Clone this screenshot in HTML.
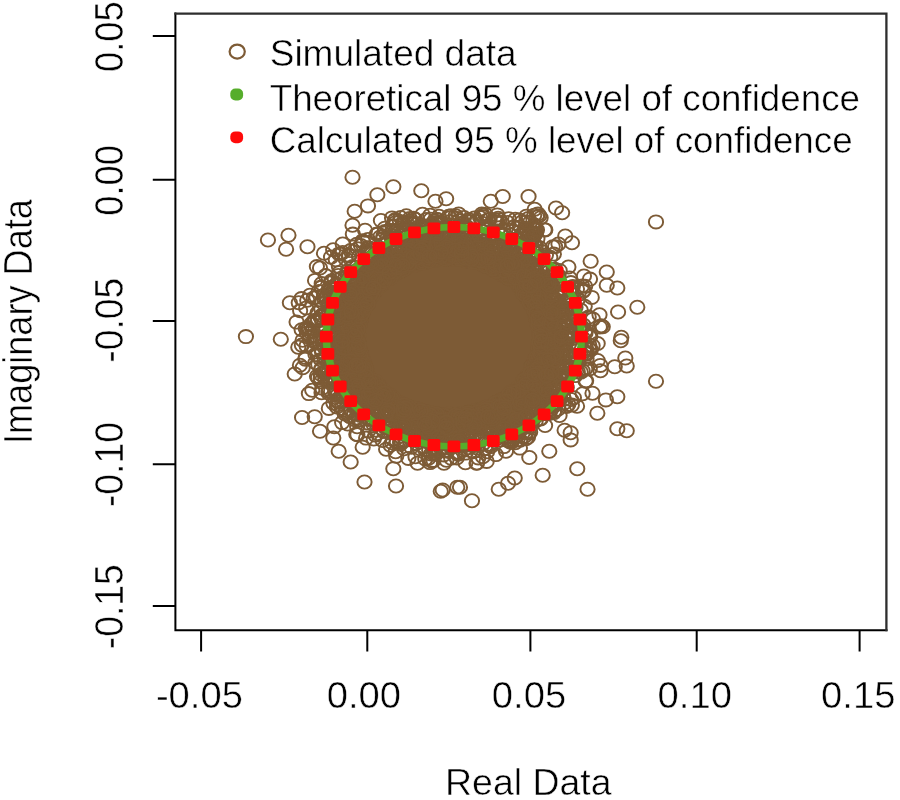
<!DOCTYPE html>
<html lang="en"><head><meta charset="utf-8"><title>Simulated data plot</title>
<style>
html,body{margin:0;padding:0;background:#fff;}
body{width:900px;height:800px;overflow:hidden;}
svg{display:block;}
text{font-family:"Liberation Sans",Arial,sans-serif;fill:#000;}
</style></head><body>
<svg width="900" height="800" viewBox="0 0 900 800">
<rect width="900" height="800" fill="#fff"/>
<ellipse cx="448.9" cy="336.7" rx="100.1" ry="86.0" fill="#7D5B36"/>
<g fill="none" stroke="#7D5B36" stroke-width="1.8" transform="scale(1.08 1)">
<circle cx="323.9" cy="278.9" r="6.6"/><circle cx="326.7" cy="326.2" r="6.6"/><circle cx="294.2" cy="312.6" r="6.6"/><circle cx="481.2" cy="267.4" r="6.6"/><circle cx="384.7" cy="426.4" r="6.6"/><circle cx="446.9" cy="247.4" r="6.6"/><circle cx="334.2" cy="245.5" r="6.6"/><circle cx="423.6" cy="437.3" r="6.6"/><circle cx="409.9" cy="247.2" r="6.6"/><circle cx="312.9" cy="374.6" r="6.6"/><circle cx="331.4" cy="370.6" r="6.6"/><circle cx="475.9" cy="401.3" r="6.6"/><circle cx="495.5" cy="306.6" r="6.6"/><circle cx="483.6" cy="271.5" r="6.6"/><circle cx="330.6" cy="369.6" r="6.6"/><circle cx="506.3" cy="403.2" r="6.6"/><circle cx="360.4" cy="261.0" r="6.6"/><circle cx="336.3" cy="242.1" r="6.6"/><circle cx="374.1" cy="268.9" r="6.6"/><circle cx="513.4" cy="274.3" r="6.6"/><circle cx="414.6" cy="238.1" r="6.6"/><circle cx="382.2" cy="248.5" r="6.6"/><circle cx="498.8" cy="402.2" r="6.6"/><circle cx="433.9" cy="219.6" r="6.6"/><circle cx="328.0" cy="407.0" r="6.6"/><circle cx="385.0" cy="408.5" r="6.6"/><circle cx="437.9" cy="427.0" r="6.6"/><circle cx="467.8" cy="405.0" r="6.6"/><circle cx="509.9" cy="327.9" r="6.6"/><circle cx="440.0" cy="420.5" r="6.6"/><circle cx="334.3" cy="354.1" r="6.6"/><circle cx="321.7" cy="273.6" r="6.6"/><circle cx="446.4" cy="437.9" r="6.6"/><circle cx="352.9" cy="272.0" r="6.6"/><circle cx="332.0" cy="301.6" r="6.6"/><circle cx="438.0" cy="251.6" r="6.6"/><circle cx="538.1" cy="328.8" r="6.6"/><circle cx="413.7" cy="259.5" r="6.6"/><circle cx="328.5" cy="334.0" r="6.6"/><circle cx="469.0" cy="268.4" r="6.6"/><circle cx="357.1" cy="254.4" r="6.6"/><circle cx="505.5" cy="322.3" r="6.6"/><circle cx="507.8" cy="290.1" r="6.6"/><circle cx="340.5" cy="291.3" r="6.6"/><circle cx="373.6" cy="251.8" r="6.6"/><circle cx="505.8" cy="330.6" r="6.6"/><circle cx="401.4" cy="243.7" r="6.6"/><circle cx="442.3" cy="262.1" r="6.6"/><circle cx="340.5" cy="378.9" r="6.6"/><circle cx="408.5" cy="223.2" r="6.6"/><circle cx="428.7" cy="415.0" r="6.6"/><circle cx="336.5" cy="362.7" r="6.6"/><circle cx="333.7" cy="320.3" r="6.6"/><circle cx="306.8" cy="321.7" r="6.6"/><circle cx="448.6" cy="412.9" r="6.6"/><circle cx="459.4" cy="424.4" r="6.6"/><circle cx="466.1" cy="269.1" r="6.6"/><circle cx="336.2" cy="272.3" r="6.6"/><circle cx="338.6" cy="290.2" r="6.6"/><circle cx="397.4" cy="450.2" r="6.6"/><circle cx="450.0" cy="428.9" r="6.6"/><circle cx="508.5" cy="413.3" r="6.6"/><circle cx="317.8" cy="365.3" r="6.6"/><circle cx="334.1" cy="353.2" r="6.6"/><circle cx="304.2" cy="391.2" r="6.6"/><circle cx="511.2" cy="337.7" r="6.6"/><circle cx="328.6" cy="296.6" r="6.6"/><circle cx="419.5" cy="247.0" r="6.6"/><circle cx="504.7" cy="425.5" r="6.6"/><circle cx="525.7" cy="333.6" r="6.6"/><circle cx="487.6" cy="249.2" r="6.6"/><circle cx="483.0" cy="266.2" r="6.6"/><circle cx="371.2" cy="243.6" r="6.6"/><circle cx="384.5" cy="248.1" r="6.6"/><circle cx="350.1" cy="409.9" r="6.6"/><circle cx="333.2" cy="324.1" r="6.6"/><circle cx="539.8" cy="291.5" r="6.6"/><circle cx="392.7" cy="242.6" r="6.6"/><circle cx="330.0" cy="315.9" r="6.6"/><circle cx="408.0" cy="448.1" r="6.6"/><circle cx="331.6" cy="324.2" r="6.6"/><circle cx="457.5" cy="430.6" r="6.6"/><circle cx="423.1" cy="416.8" r="6.6"/><circle cx="470.4" cy="440.4" r="6.6"/><circle cx="513.3" cy="326.9" r="6.6"/><circle cx="390.5" cy="241.1" r="6.6"/><circle cx="473.0" cy="274.5" r="6.6"/><circle cx="525.3" cy="299.7" r="6.6"/><circle cx="505.2" cy="412.9" r="6.6"/><circle cx="321.3" cy="293.3" r="6.6"/><circle cx="306.6" cy="365.1" r="6.6"/><circle cx="371.6" cy="266.5" r="6.6"/><circle cx="395.3" cy="427.3" r="6.6"/><circle cx="433.6" cy="416.3" r="6.6"/><circle cx="401.8" cy="255.6" r="6.6"/><circle cx="404.8" cy="237.3" r="6.6"/><circle cx="331.2" cy="288.9" r="6.6"/><circle cx="317.1" cy="293.4" r="6.6"/><circle cx="492.4" cy="289.3" r="6.6"/><circle cx="500.4" cy="345.4" r="6.6"/><circle cx="499.7" cy="247.8" r="6.6"/><circle cx="421.4" cy="446.1" r="6.6"/><circle cx="361.7" cy="267.2" r="6.6"/><circle cx="381.9" cy="236.7" r="6.6"/><circle cx="438.9" cy="420.4" r="6.6"/><circle cx="486.6" cy="228.9" r="6.6"/><circle cx="470.5" cy="240.8" r="6.6"/><circle cx="382.8" cy="428.1" r="6.6"/><circle cx="430.2" cy="449.1" r="6.6"/><circle cx="377.9" cy="234.9" r="6.6"/><circle cx="380.4" cy="246.7" r="6.6"/><circle cx="378.9" cy="416.4" r="6.6"/><circle cx="466.6" cy="446.6" r="6.6"/><circle cx="528.6" cy="298.6" r="6.6"/><circle cx="336.5" cy="295.2" r="6.6"/><circle cx="327.9" cy="285.1" r="6.6"/><circle cx="493.7" cy="238.6" r="6.6"/><circle cx="411.7" cy="252.5" r="6.6"/><circle cx="331.6" cy="296.8" r="6.6"/><circle cx="444.9" cy="415.2" r="6.6"/><circle cx="357.9" cy="395.2" r="6.6"/><circle cx="432.1" cy="226.6" r="6.6"/><circle cx="360.9" cy="427.6" r="6.6"/><circle cx="411.1" cy="463.3" r="6.6"/><circle cx="466.8" cy="404.7" r="6.6"/><circle cx="358.7" cy="272.3" r="6.6"/><circle cx="492.5" cy="298.7" r="6.6"/><circle cx="498.4" cy="381.7" r="6.6"/><circle cx="493.3" cy="260.4" r="6.6"/><circle cx="338.9" cy="386.3" r="6.6"/><circle cx="424.5" cy="220.8" r="6.6"/><circle cx="484.7" cy="417.7" r="6.6"/><circle cx="337.5" cy="376.3" r="6.6"/><circle cx="546.1" cy="368.8" r="6.6"/><circle cx="352.5" cy="280.0" r="6.6"/><circle cx="392.0" cy="253.7" r="6.6"/><circle cx="350.6" cy="263.4" r="6.6"/><circle cx="512.5" cy="269.6" r="6.6"/><circle cx="498.1" cy="321.5" r="6.6"/><circle cx="359.8" cy="277.7" r="6.6"/><circle cx="443.3" cy="256.8" r="6.6"/><circle cx="388.0" cy="240.8" r="6.6"/><circle cx="491.9" cy="238.5" r="6.6"/><circle cx="541.8" cy="286.2" r="6.6"/><circle cx="381.1" cy="223.6" r="6.6"/><circle cx="503.4" cy="295.8" r="6.6"/><circle cx="486.5" cy="408.0" r="6.6"/><circle cx="508.8" cy="394.9" r="6.6"/><circle cx="356.0" cy="401.9" r="6.6"/><circle cx="529.7" cy="358.3" r="6.6"/><circle cx="396.1" cy="259.6" r="6.6"/><circle cx="498.0" cy="374.9" r="6.6"/><circle cx="342.6" cy="403.9" r="6.6"/><circle cx="529.0" cy="304.6" r="6.6"/><circle cx="428.2" cy="250.8" r="6.6"/><circle cx="355.2" cy="396.2" r="6.6"/><circle cx="356.8" cy="410.4" r="6.6"/><circle cx="440.1" cy="416.9" r="6.6"/><circle cx="472.4" cy="412.8" r="6.6"/><circle cx="513.5" cy="389.7" r="6.6"/><circle cx="436.0" cy="259.6" r="6.6"/><circle cx="324.3" cy="382.4" r="6.6"/><circle cx="483.6" cy="282.3" r="6.6"/><circle cx="492.4" cy="294.9" r="6.6"/><circle cx="287.5" cy="336.4" r="6.6"/><circle cx="492.0" cy="285.2" r="6.6"/><circle cx="363.0" cy="403.1" r="6.6"/><circle cx="386.9" cy="425.7" r="6.6"/><circle cx="332.6" cy="276.7" r="6.6"/><circle cx="521.3" cy="367.5" r="6.6"/><circle cx="318.1" cy="328.8" r="6.6"/><circle cx="334.0" cy="320.4" r="6.6"/><circle cx="306.3" cy="298.6" r="6.6"/><circle cx="390.4" cy="434.2" r="6.6"/><circle cx="515.0" cy="346.3" r="6.6"/><circle cx="403.9" cy="240.2" r="6.6"/><circle cx="489.2" cy="374.5" r="6.6"/><circle cx="344.9" cy="259.1" r="6.6"/><circle cx="420.4" cy="241.0" r="6.6"/><circle cx="359.8" cy="275.3" r="6.6"/><circle cx="317.3" cy="392.2" r="6.6"/><circle cx="309.1" cy="332.1" r="6.6"/><circle cx="420.0" cy="230.1" r="6.6"/><circle cx="457.7" cy="254.1" r="6.6"/><circle cx="385.8" cy="437.2" r="6.6"/><circle cx="473.1" cy="414.0" r="6.6"/><circle cx="381.7" cy="259.3" r="6.6"/><circle cx="348.8" cy="273.1" r="6.6"/><circle cx="525.7" cy="340.0" r="6.6"/><circle cx="502.6" cy="358.5" r="6.6"/><circle cx="364.2" cy="239.9" r="6.6"/><circle cx="351.7" cy="284.9" r="6.6"/><circle cx="304.7" cy="370.4" r="6.6"/><circle cx="341.5" cy="419.4" r="6.6"/><circle cx="507.2" cy="350.9" r="6.6"/><circle cx="420.9" cy="437.2" r="6.6"/><circle cx="317.1" cy="317.3" r="6.6"/><circle cx="499.4" cy="331.9" r="6.6"/><circle cx="403.7" cy="427.8" r="6.6"/><circle cx="519.7" cy="346.0" r="6.6"/><circle cx="502.6" cy="305.5" r="6.6"/><circle cx="402.9" cy="232.5" r="6.6"/><circle cx="464.7" cy="399.9" r="6.6"/><circle cx="386.2" cy="426.5" r="6.6"/><circle cx="413.1" cy="434.9" r="6.6"/><circle cx="517.0" cy="297.2" r="6.6"/><circle cx="503.4" cy="321.9" r="6.6"/><circle cx="322.5" cy="331.5" r="6.6"/><circle cx="490.3" cy="400.3" r="6.6"/><circle cx="353.9" cy="282.5" r="6.6"/><circle cx="500.0" cy="365.8" r="6.6"/><circle cx="503.9" cy="398.2" r="6.6"/><circle cx="422.9" cy="457.9" r="6.6"/><circle cx="420.4" cy="242.9" r="6.6"/><circle cx="427.0" cy="258.0" r="6.6"/><circle cx="498.3" cy="350.0" r="6.6"/><circle cx="360.2" cy="276.0" r="6.6"/><circle cx="301.2" cy="372.9" r="6.6"/><circle cx="517.7" cy="342.9" r="6.6"/><circle cx="393.9" cy="411.5" r="6.6"/><circle cx="505.2" cy="294.1" r="6.6"/><circle cx="418.6" cy="259.1" r="6.6"/><circle cx="348.8" cy="420.6" r="6.6"/><circle cx="350.9" cy="406.5" r="6.6"/><circle cx="499.1" cy="294.8" r="6.6"/><circle cx="431.9" cy="426.3" r="6.6"/><circle cx="355.3" cy="430.6" r="6.6"/><circle cx="380.4" cy="237.7" r="6.6"/><circle cx="508.1" cy="321.5" r="6.6"/><circle cx="474.2" cy="274.6" r="6.6"/><circle cx="368.0" cy="407.1" r="6.6"/><circle cx="471.0" cy="278.8" r="6.6"/><circle cx="502.2" cy="251.6" r="6.6"/><circle cx="325.4" cy="319.6" r="6.6"/><circle cx="344.6" cy="400.9" r="6.6"/><circle cx="505.7" cy="364.7" r="6.6"/><circle cx="347.4" cy="261.1" r="6.6"/><circle cx="348.7" cy="273.6" r="6.6"/><circle cx="438.4" cy="451.8" r="6.6"/><circle cx="382.3" cy="423.2" r="6.6"/><circle cx="323.6" cy="353.8" r="6.6"/><circle cx="449.1" cy="245.6" r="6.6"/><circle cx="487.0" cy="438.8" r="6.6"/><circle cx="409.4" cy="251.2" r="6.6"/><circle cx="506.7" cy="282.5" r="6.6"/><circle cx="473.5" cy="430.9" r="6.6"/><circle cx="490.7" cy="289.6" r="6.6"/><circle cx="338.5" cy="294.5" r="6.6"/><circle cx="485.8" cy="424.7" r="6.6"/><circle cx="333.9" cy="319.1" r="6.6"/><circle cx="359.3" cy="396.5" r="6.6"/><circle cx="420.1" cy="251.7" r="6.6"/><circle cx="396.4" cy="442.2" r="6.6"/><circle cx="359.1" cy="272.1" r="6.6"/><circle cx="485.5" cy="289.0" r="6.6"/><circle cx="493.8" cy="394.8" r="6.6"/><circle cx="335.7" cy="294.4" r="6.6"/><circle cx="441.8" cy="447.9" r="6.6"/><circle cx="433.9" cy="221.7" r="6.6"/><circle cx="510.7" cy="368.4" r="6.6"/><circle cx="464.8" cy="411.3" r="6.6"/><circle cx="377.9" cy="242.4" r="6.6"/><circle cx="383.2" cy="245.9" r="6.6"/><circle cx="334.8" cy="367.5" r="6.6"/><circle cx="496.1" cy="420.6" r="6.6"/><circle cx="345.6" cy="289.8" r="6.6"/><circle cx="434.1" cy="252.0" r="6.6"/><circle cx="315.5" cy="396.7" r="6.6"/><circle cx="517.0" cy="359.0" r="6.6"/><circle cx="396.4" cy="422.6" r="6.6"/><circle cx="364.8" cy="236.0" r="6.6"/><circle cx="395.5" cy="240.7" r="6.6"/><circle cx="436.2" cy="411.7" r="6.6"/><circle cx="323.5" cy="389.2" r="6.6"/><circle cx="388.2" cy="442.0" r="6.6"/><circle cx="391.0" cy="256.5" r="6.6"/><circle cx="513.7" cy="321.0" r="6.6"/><circle cx="340.4" cy="276.0" r="6.6"/><circle cx="429.7" cy="444.9" r="6.6"/><circle cx="362.0" cy="416.0" r="6.6"/><circle cx="357.7" cy="269.1" r="6.6"/><circle cx="518.0" cy="364.3" r="6.6"/><circle cx="541.6" cy="351.3" r="6.6"/><circle cx="503.1" cy="349.4" r="6.6"/><circle cx="348.4" cy="400.6" r="6.6"/><circle cx="521.2" cy="313.5" r="6.6"/><circle cx="347.1" cy="275.7" r="6.6"/><circle cx="346.1" cy="439.0" r="6.6"/><circle cx="325.4" cy="301.8" r="6.6"/><circle cx="507.5" cy="310.5" r="6.6"/><circle cx="511.7" cy="287.7" r="6.6"/><circle cx="444.4" cy="256.1" r="6.6"/><circle cx="333.9" cy="275.7" r="6.6"/><circle cx="311.6" cy="313.4" r="6.6"/><circle cx="506.5" cy="306.5" r="6.6"/><circle cx="471.9" cy="398.4" r="6.6"/><circle cx="512.9" cy="341.9" r="6.6"/><circle cx="500.7" cy="280.8" r="6.6"/><circle cx="338.9" cy="304.7" r="6.6"/><circle cx="491.1" cy="285.1" r="6.6"/><circle cx="384.7" cy="456.8" r="6.6"/><circle cx="336.3" cy="304.0" r="6.6"/><circle cx="350.9" cy="284.0" r="6.6"/><circle cx="415.4" cy="246.7" r="6.6"/><circle cx="375.5" cy="413.6" r="6.6"/><circle cx="487.0" cy="382.6" r="6.6"/><circle cx="306.5" cy="391.4" r="6.6"/><circle cx="324.0" cy="367.2" r="6.6"/><circle cx="445.2" cy="416.1" r="6.6"/><circle cx="451.7" cy="260.7" r="6.6"/><circle cx="448.8" cy="262.7" r="6.6"/><circle cx="485.0" cy="406.5" r="6.6"/><circle cx="517.9" cy="394.5" r="6.6"/><circle cx="486.3" cy="379.0" r="6.6"/><circle cx="393.4" cy="248.8" r="6.6"/><circle cx="414.8" cy="428.3" r="6.6"/><circle cx="359.0" cy="418.5" r="6.6"/><circle cx="326.7" cy="234.1" r="6.6"/><circle cx="314.2" cy="323.2" r="6.6"/><circle cx="392.3" cy="427.0" r="6.6"/><circle cx="364.7" cy="261.1" r="6.6"/><circle cx="339.7" cy="371.5" r="6.6"/><circle cx="293.5" cy="376.3" r="6.6"/><circle cx="526.4" cy="337.8" r="6.6"/><circle cx="503.9" cy="283.5" r="6.6"/><circle cx="348.9" cy="386.1" r="6.6"/><circle cx="417.6" cy="427.8" r="6.6"/><circle cx="307.6" cy="339.7" r="6.6"/><circle cx="349.5" cy="433.5" r="6.6"/><circle cx="397.7" cy="429.9" r="6.6"/><circle cx="515.8" cy="333.3" r="6.6"/><circle cx="279.3" cy="329.7" r="6.6"/><circle cx="424.3" cy="422.9" r="6.6"/><circle cx="349.0" cy="422.1" r="6.6"/><circle cx="293.1" cy="342.9" r="6.6"/><circle cx="350.1" cy="274.6" r="6.6"/><circle cx="520.1" cy="346.9" r="6.6"/><circle cx="433.6" cy="447.7" r="6.6"/><circle cx="392.4" cy="425.1" r="6.6"/><circle cx="495.8" cy="363.9" r="6.6"/><circle cx="542.2" cy="332.7" r="6.6"/><circle cx="345.7" cy="390.0" r="6.6"/><circle cx="431.6" cy="415.5" r="6.6"/><circle cx="428.2" cy="244.9" r="6.6"/><circle cx="330.1" cy="341.8" r="6.6"/><circle cx="370.5" cy="271.7" r="6.6"/><circle cx="331.7" cy="309.8" r="6.6"/><circle cx="490.7" cy="275.4" r="6.6"/><circle cx="347.6" cy="286.9" r="6.6"/><circle cx="473.6" cy="396.7" r="6.6"/><circle cx="318.6" cy="302.1" r="6.6"/><circle cx="499.3" cy="256.9" r="6.6"/><circle cx="441.0" cy="257.8" r="6.6"/><circle cx="521.6" cy="288.5" r="6.6"/><circle cx="434.3" cy="444.3" r="6.6"/><circle cx="489.7" cy="433.2" r="6.6"/><circle cx="318.2" cy="351.2" r="6.6"/><circle cx="343.5" cy="390.8" r="6.6"/><circle cx="320.4" cy="291.7" r="6.6"/><circle cx="334.9" cy="410.2" r="6.6"/><circle cx="389.8" cy="256.0" r="6.6"/><circle cx="507.3" cy="352.9" r="6.6"/><circle cx="371.2" cy="265.9" r="6.6"/><circle cx="462.6" cy="405.0" r="6.6"/><circle cx="399.5" cy="237.5" r="6.6"/><circle cx="486.8" cy="401.0" r="6.6"/><circle cx="312.5" cy="294.7" r="6.6"/><circle cx="501.4" cy="320.2" r="6.6"/><circle cx="502.2" cy="397.0" r="6.6"/><circle cx="327.2" cy="352.3" r="6.6"/><circle cx="387.1" cy="243.8" r="6.6"/><circle cx="371.4" cy="255.9" r="6.6"/><circle cx="498.3" cy="320.2" r="6.6"/><circle cx="398.7" cy="235.9" r="6.6"/><circle cx="311.3" cy="349.6" r="6.6"/><circle cx="400.5" cy="424.1" r="6.6"/><circle cx="339.3" cy="293.0" r="6.6"/><circle cx="337.8" cy="384.7" r="6.6"/><circle cx="365.5" cy="242.0" r="6.6"/><circle cx="314.2" cy="326.9" r="6.6"/><circle cx="530.9" cy="321.4" r="6.6"/><circle cx="293.6" cy="321.3" r="6.6"/><circle cx="509.3" cy="377.6" r="6.6"/><circle cx="470.1" cy="277.2" r="6.6"/><circle cx="515.7" cy="339.0" r="6.6"/><circle cx="497.4" cy="272.4" r="6.6"/><circle cx="460.4" cy="430.6" r="6.6"/><circle cx="498.8" cy="367.9" r="6.6"/><circle cx="402.4" cy="222.7" r="6.6"/><circle cx="539.5" cy="370.7" r="6.6"/><circle cx="325.5" cy="401.1" r="6.6"/><circle cx="458.2" cy="414.9" r="6.6"/><circle cx="456.4" cy="265.5" r="6.6"/><circle cx="392.6" cy="233.2" r="6.6"/><circle cx="526.3" cy="267.0" r="6.6"/><circle cx="320.1" cy="259.1" r="6.6"/><circle cx="283.9" cy="345.9" r="6.6"/><circle cx="498.9" cy="385.2" r="6.6"/><circle cx="283.5" cy="308.0" r="6.6"/><circle cx="389.9" cy="261.6" r="6.6"/><circle cx="353.4" cy="411.9" r="6.6"/><circle cx="400.3" cy="244.9" r="6.6"/><circle cx="338.9" cy="385.4" r="6.6"/><circle cx="499.0" cy="378.0" r="6.6"/><circle cx="399.3" cy="253.5" r="6.6"/><circle cx="518.2" cy="345.9" r="6.6"/><circle cx="517.0" cy="390.3" r="6.6"/><circle cx="329.8" cy="291.3" r="6.6"/><circle cx="335.3" cy="275.2" r="6.6"/><circle cx="391.2" cy="410.7" r="6.6"/><circle cx="439.2" cy="419.0" r="6.6"/><circle cx="504.3" cy="284.9" r="6.6"/><circle cx="494.7" cy="291.5" r="6.6"/><circle cx="366.3" cy="451.8" r="6.6"/><circle cx="328.7" cy="354.9" r="6.6"/><circle cx="487.6" cy="396.1" r="6.6"/><circle cx="471.1" cy="271.9" r="6.6"/><circle cx="374.2" cy="256.6" r="6.6"/><circle cx="517.3" cy="339.3" r="6.6"/><circle cx="467.1" cy="242.4" r="6.6"/><circle cx="416.9" cy="435.6" r="6.6"/><circle cx="297.5" cy="368.8" r="6.6"/><circle cx="319.2" cy="285.5" r="6.6"/><circle cx="494.4" cy="384.5" r="6.6"/><circle cx="528.6" cy="282.6" r="6.6"/><circle cx="464.9" cy="399.4" r="6.6"/><circle cx="336.2" cy="266.6" r="6.6"/><circle cx="525.6" cy="302.7" r="6.6"/><circle cx="502.4" cy="378.6" r="6.6"/><circle cx="317.9" cy="390.2" r="6.6"/><circle cx="317.6" cy="349.8" r="6.6"/><circle cx="465.5" cy="268.5" r="6.6"/><circle cx="466.4" cy="427.1" r="6.6"/><circle cx="451.0" cy="451.8" r="6.6"/><circle cx="491.0" cy="276.4" r="6.6"/><circle cx="400.3" cy="414.7" r="6.6"/><circle cx="345.4" cy="415.8" r="6.6"/><circle cx="504.0" cy="351.9" r="6.6"/><circle cx="483.2" cy="270.2" r="6.6"/><circle cx="326.2" cy="338.7" r="6.6"/><circle cx="315.6" cy="253.7" r="6.6"/><circle cx="355.6" cy="431.4" r="6.6"/><circle cx="302.1" cy="328.8" r="6.6"/><circle cx="501.4" cy="367.4" r="6.6"/><circle cx="426.8" cy="444.3" r="6.6"/><circle cx="463.1" cy="246.5" r="6.6"/><circle cx="335.8" cy="240.7" r="6.6"/><circle cx="422.4" cy="238.7" r="6.6"/><circle cx="388.0" cy="248.6" r="6.6"/><circle cx="327.6" cy="372.3" r="6.6"/><circle cx="449.9" cy="250.8" r="6.6"/><circle cx="337.1" cy="282.7" r="6.6"/><circle cx="346.2" cy="286.9" r="6.6"/><circle cx="428.9" cy="417.9" r="6.6"/><circle cx="392.3" cy="255.9" r="6.6"/><circle cx="332.4" cy="313.6" r="6.6"/><circle cx="430.8" cy="260.4" r="6.6"/><circle cx="366.6" cy="263.7" r="6.6"/><circle cx="344.9" cy="271.7" r="6.6"/><circle cx="348.7" cy="390.1" r="6.6"/><circle cx="371.6" cy="430.6" r="6.6"/><circle cx="426.6" cy="247.7" r="6.6"/><circle cx="375.0" cy="266.2" r="6.6"/><circle cx="425.7" cy="247.8" r="6.6"/><circle cx="356.5" cy="271.0" r="6.6"/><circle cx="334.8" cy="296.0" r="6.6"/><circle cx="326.7" cy="329.7" r="6.6"/><circle cx="497.7" cy="400.2" r="6.6"/><circle cx="511.9" cy="309.3" r="6.6"/><circle cx="470.6" cy="419.6" r="6.6"/><circle cx="428.3" cy="421.3" r="6.6"/><circle cx="395.2" cy="434.4" r="6.6"/><circle cx="311.0" cy="381.4" r="6.6"/><circle cx="528.5" cy="367.1" r="6.6"/><circle cx="454.2" cy="251.3" r="6.6"/><circle cx="465.9" cy="229.8" r="6.6"/><circle cx="409.3" cy="421.8" r="6.6"/><circle cx="328.3" cy="318.4" r="6.6"/><circle cx="490.9" cy="432.0" r="6.6"/><circle cx="407.6" cy="416.1" r="6.6"/><circle cx="304.8" cy="377.0" r="6.6"/><circle cx="394.8" cy="438.9" r="6.6"/><circle cx="325.6" cy="401.3" r="6.6"/><circle cx="306.3" cy="375.6" r="6.6"/><circle cx="290.4" cy="298.0" r="6.6"/><circle cx="315.5" cy="321.5" r="6.6"/><circle cx="503.3" cy="315.1" r="6.6"/><circle cx="448.8" cy="264.5" r="6.6"/><circle cx="318.3" cy="361.7" r="6.6"/><circle cx="452.2" cy="411.4" r="6.6"/><circle cx="402.7" cy="260.4" r="6.6"/><circle cx="525.3" cy="337.8" r="6.6"/><circle cx="438.0" cy="251.3" r="6.6"/><circle cx="377.0" cy="412.0" r="6.6"/><circle cx="399.1" cy="420.0" r="6.6"/><circle cx="366.8" cy="259.3" r="6.6"/><circle cx="297.9" cy="283.6" r="6.6"/><circle cx="325.0" cy="394.6" r="6.6"/><circle cx="314.9" cy="387.0" r="6.6"/><circle cx="413.5" cy="418.8" r="6.6"/><circle cx="496.0" cy="315.6" r="6.6"/><circle cx="335.9" cy="397.2" r="6.6"/><circle cx="348.9" cy="275.3" r="6.6"/><circle cx="333.2" cy="298.5" r="6.6"/><circle cx="488.0" cy="383.7" r="6.6"/><circle cx="349.6" cy="271.7" r="6.6"/><circle cx="484.8" cy="394.1" r="6.6"/><circle cx="480.2" cy="415.0" r="6.6"/><circle cx="398.9" cy="441.5" r="6.6"/><circle cx="405.3" cy="238.2" r="6.6"/><circle cx="336.6" cy="379.5" r="6.6"/><circle cx="504.8" cy="377.3" r="6.6"/><circle cx="424.0" cy="438.0" r="6.6"/><circle cx="325.3" cy="381.1" r="6.6"/><circle cx="340.2" cy="394.0" r="6.6"/><circle cx="516.5" cy="398.8" r="6.6"/><circle cx="503.6" cy="320.3" r="6.6"/><circle cx="298.1" cy="320.3" r="6.6"/><circle cx="356.4" cy="398.9" r="6.6"/><circle cx="293.0" cy="297.3" r="6.6"/><circle cx="392.5" cy="432.5" r="6.6"/><circle cx="447.8" cy="259.4" r="6.6"/><circle cx="501.8" cy="369.2" r="6.6"/><circle cx="473.6" cy="442.3" r="6.6"/><circle cx="499.9" cy="357.3" r="6.6"/><circle cx="368.0" cy="402.3" r="6.6"/><circle cx="556.6" cy="325.8" r="6.6"/><circle cx="416.8" cy="415.5" r="6.6"/><circle cx="317.0" cy="353.5" r="6.6"/><circle cx="354.9" cy="395.0" r="6.6"/><circle cx="323.0" cy="289.1" r="6.6"/><circle cx="308.7" cy="316.4" r="6.6"/><circle cx="362.9" cy="397.3" r="6.6"/><circle cx="411.6" cy="416.9" r="6.6"/><circle cx="406.0" cy="231.4" r="6.6"/><circle cx="337.7" cy="302.8" r="6.6"/><circle cx="498.5" cy="317.0" r="6.6"/><circle cx="369.4" cy="413.2" r="6.6"/><circle cx="526.7" cy="362.9" r="6.6"/><circle cx="487.5" cy="282.2" r="6.6"/><circle cx="431.3" cy="256.0" r="6.6"/><circle cx="422.8" cy="417.9" r="6.6"/><circle cx="385.1" cy="414.5" r="6.6"/><circle cx="488.3" cy="232.6" r="6.6"/><circle cx="346.8" cy="397.3" r="6.6"/><circle cx="420.5" cy="242.6" r="6.6"/><circle cx="482.3" cy="287.6" r="6.6"/><circle cx="311.2" cy="294.5" r="6.6"/><circle cx="370.2" cy="436.4" r="6.6"/><circle cx="442.9" cy="425.2" r="6.6"/><circle cx="449.2" cy="266.0" r="6.6"/><circle cx="406.2" cy="426.3" r="6.6"/><circle cx="500.2" cy="319.2" r="6.6"/><circle cx="389.9" cy="247.7" r="6.6"/><circle cx="526.2" cy="404.6" r="6.6"/><circle cx="466.8" cy="275.6" r="6.6"/><circle cx="500.2" cy="402.8" r="6.6"/><circle cx="432.4" cy="244.3" r="6.6"/><circle cx="476.4" cy="409.6" r="6.6"/><circle cx="497.1" cy="392.4" r="6.6"/><circle cx="328.7" cy="344.2" r="6.6"/><circle cx="481.6" cy="260.2" r="6.6"/><circle cx="324.3" cy="365.7" r="6.6"/><circle cx="396.6" cy="256.0" r="6.6"/><circle cx="426.0" cy="428.1" r="6.6"/><circle cx="529.1" cy="287.2" r="6.6"/><circle cx="497.8" cy="413.1" r="6.6"/><circle cx="413.1" cy="419.4" r="6.6"/><circle cx="474.7" cy="274.9" r="6.6"/><circle cx="335.9" cy="312.6" r="6.6"/><circle cx="371.1" cy="407.9" r="6.6"/><circle cx="479.2" cy="264.0" r="6.6"/><circle cx="457.6" cy="266.1" r="6.6"/><circle cx="495.8" cy="271.2" r="6.6"/><circle cx="327.3" cy="325.2" r="6.6"/><circle cx="452.0" cy="429.6" r="6.6"/><circle cx="330.7" cy="347.6" r="6.6"/><circle cx="341.6" cy="258.8" r="6.6"/><circle cx="510.0" cy="334.2" r="6.6"/><circle cx="442.7" cy="252.9" r="6.6"/><circle cx="500.0" cy="405.5" r="6.6"/><circle cx="503.8" cy="285.2" r="6.6"/><circle cx="328.6" cy="419.8" r="6.6"/><circle cx="307.0" cy="361.2" r="6.6"/><circle cx="350.6" cy="385.2" r="6.6"/><circle cx="340.8" cy="253.1" r="6.6"/><circle cx="449.2" cy="260.0" r="6.6"/><circle cx="322.4" cy="369.0" r="6.6"/><circle cx="304.4" cy="291.2" r="6.6"/><circle cx="519.6" cy="337.1" r="6.6"/><circle cx="501.9" cy="294.6" r="6.6"/><circle cx="502.0" cy="256.6" r="6.6"/><circle cx="443.4" cy="409.8" r="6.6"/><circle cx="330.6" cy="338.6" r="6.6"/><circle cx="413.7" cy="421.2" r="6.6"/><circle cx="289.5" cy="330.9" r="6.6"/><circle cx="511.4" cy="406.6" r="6.6"/><circle cx="330.2" cy="301.5" r="6.6"/><circle cx="485.4" cy="415.7" r="6.6"/><circle cx="359.5" cy="397.0" r="6.6"/><circle cx="522.0" cy="291.7" r="6.6"/><circle cx="306.0" cy="381.6" r="6.6"/><circle cx="491.6" cy="277.2" r="6.6"/><circle cx="390.7" cy="244.4" r="6.6"/><circle cx="519.1" cy="379.3" r="6.6"/><circle cx="315.7" cy="327.4" r="6.6"/><circle cx="332.2" cy="355.2" r="6.6"/><circle cx="422.5" cy="444.5" r="6.6"/><circle cx="320.0" cy="349.9" r="6.6"/><circle cx="315.8" cy="340.1" r="6.6"/><circle cx="330.1" cy="342.2" r="6.6"/><circle cx="308.9" cy="289.8" r="6.6"/><circle cx="391.2" cy="235.7" r="6.6"/><circle cx="326.0" cy="343.6" r="6.6"/><circle cx="376.9" cy="433.3" r="6.6"/><circle cx="496.7" cy="364.2" r="6.6"/><circle cx="457.5" cy="409.2" r="6.6"/><circle cx="499.5" cy="414.4" r="6.6"/><circle cx="453.4" cy="419.2" r="6.6"/><circle cx="464.8" cy="421.5" r="6.6"/><circle cx="470.8" cy="396.5" r="6.6"/><circle cx="308.5" cy="249.7" r="6.6"/><circle cx="489.8" cy="254.8" r="6.6"/><circle cx="504.8" cy="379.1" r="6.6"/><circle cx="530.2" cy="364.6" r="6.6"/><circle cx="354.2" cy="440.5" r="6.6"/><circle cx="357.6" cy="273.8" r="6.6"/><circle cx="516.5" cy="384.5" r="6.6"/><circle cx="504.3" cy="359.1" r="6.6"/><circle cx="416.5" cy="241.3" r="6.6"/><circle cx="474.8" cy="426.2" r="6.6"/><circle cx="332.9" cy="378.8" r="6.6"/><circle cx="365.9" cy="258.7" r="6.6"/><circle cx="500.7" cy="349.4" r="6.6"/><circle cx="429.9" cy="432.1" r="6.6"/><circle cx="473.3" cy="245.0" r="6.6"/><circle cx="402.7" cy="249.6" r="6.6"/><circle cx="328.3" cy="295.9" r="6.6"/><circle cx="520.4" cy="357.7" r="6.6"/><circle cx="468.4" cy="426.7" r="6.6"/><circle cx="330.8" cy="310.5" r="6.6"/><circle cx="538.9" cy="285.9" r="6.6"/><circle cx="326.4" cy="383.0" r="6.6"/><circle cx="334.5" cy="394.9" r="6.6"/><circle cx="504.8" cy="356.3" r="6.6"/><circle cx="311.1" cy="319.3" r="6.6"/><circle cx="503.4" cy="379.5" r="6.6"/><circle cx="514.8" cy="272.8" r="6.6"/><circle cx="494.1" cy="281.6" r="6.6"/><circle cx="522.8" cy="308.7" r="6.6"/><circle cx="344.1" cy="404.4" r="6.6"/><circle cx="474.0" cy="397.2" r="6.6"/><circle cx="338.2" cy="368.9" r="6.6"/><circle cx="494.0" cy="228.7" r="6.6"/><circle cx="397.9" cy="254.6" r="6.6"/><circle cx="505.3" cy="346.5" r="6.6"/><circle cx="434.2" cy="443.4" r="6.6"/><circle cx="351.5" cy="395.4" r="6.6"/><circle cx="476.0" cy="255.9" r="6.6"/><circle cx="381.8" cy="415.2" r="6.6"/><circle cx="323.7" cy="350.0" r="6.6"/><circle cx="512.5" cy="335.7" r="6.6"/><circle cx="333.5" cy="303.4" r="6.6"/><circle cx="432.4" cy="228.1" r="6.6"/><circle cx="503.3" cy="401.5" r="6.6"/><circle cx="481.3" cy="288.8" r="6.6"/><circle cx="547.9" cy="297.4" r="6.6"/><circle cx="492.9" cy="299.0" r="6.6"/><circle cx="357.6" cy="267.6" r="6.6"/><circle cx="454.4" cy="420.0" r="6.6"/><circle cx="512.8" cy="254.1" r="6.6"/><circle cx="308.5" cy="297.7" r="6.6"/><circle cx="329.6" cy="360.2" r="6.6"/><circle cx="376.5" cy="261.0" r="6.6"/><circle cx="526.9" cy="343.8" r="6.6"/><circle cx="378.3" cy="406.9" r="6.6"/><circle cx="340.7" cy="277.5" r="6.6"/><circle cx="482.5" cy="264.1" r="6.6"/><circle cx="430.9" cy="433.9" r="6.6"/><circle cx="513.1" cy="410.9" r="6.6"/><circle cx="330.2" cy="305.4" r="6.6"/><circle cx="297.1" cy="359.8" r="6.6"/><circle cx="428.7" cy="236.4" r="6.6"/><circle cx="329.3" cy="418.0" r="6.6"/><circle cx="472.5" cy="264.9" r="6.6"/><circle cx="328.6" cy="339.8" r="6.6"/><circle cx="522.1" cy="325.8" r="6.6"/><circle cx="524.4" cy="351.0" r="6.6"/><circle cx="305.0" cy="303.2" r="6.6"/><circle cx="346.6" cy="260.0" r="6.6"/><circle cx="385.4" cy="248.5" r="6.6"/><circle cx="364.8" cy="274.7" r="6.6"/><circle cx="381.5" cy="246.4" r="6.6"/><circle cx="447.4" cy="411.6" r="6.6"/><circle cx="391.4" cy="261.1" r="6.6"/><circle cx="499.5" cy="288.2" r="6.6"/><circle cx="430.1" cy="415.5" r="6.6"/><circle cx="497.3" cy="313.0" r="6.6"/><circle cx="448.9" cy="241.1" r="6.6"/><circle cx="405.5" cy="429.4" r="6.6"/><circle cx="329.3" cy="312.8" r="6.6"/><circle cx="325.4" cy="354.5" r="6.6"/><circle cx="404.8" cy="231.2" r="6.6"/><circle cx="340.7" cy="303.3" r="6.6"/><circle cx="413.6" cy="242.9" r="6.6"/><circle cx="481.0" cy="404.7" r="6.6"/><circle cx="494.9" cy="371.7" r="6.6"/><circle cx="436.9" cy="414.4" r="6.6"/><circle cx="413.6" cy="435.7" r="6.6"/><circle cx="546.3" cy="279.1" r="6.6"/><circle cx="498.3" cy="344.2" r="6.6"/><circle cx="347.5" cy="395.9" r="6.6"/><circle cx="320.7" cy="286.7" r="6.6"/><circle cx="437.5" cy="251.4" r="6.6"/><circle cx="322.1" cy="325.9" r="6.6"/><circle cx="305.5" cy="337.2" r="6.6"/><circle cx="371.3" cy="415.9" r="6.6"/><circle cx="382.5" cy="255.8" r="6.6"/><circle cx="500.9" cy="393.8" r="6.6"/><circle cx="417.7" cy="458.1" r="6.6"/><circle cx="313.4" cy="335.1" r="6.6"/><circle cx="397.0" cy="226.0" r="6.6"/><circle cx="376.2" cy="412.2" r="6.6"/><circle cx="309.6" cy="426.8" r="6.6"/><circle cx="420.5" cy="435.9" r="6.6"/><circle cx="400.1" cy="431.9" r="6.6"/><circle cx="331.3" cy="363.8" r="6.6"/><circle cx="454.9" cy="421.4" r="6.6"/><circle cx="477.6" cy="274.4" r="6.6"/><circle cx="442.1" cy="418.2" r="6.6"/><circle cx="346.1" cy="289.1" r="6.6"/><circle cx="351.7" cy="275.3" r="6.6"/><circle cx="487.2" cy="281.6" r="6.6"/><circle cx="325.9" cy="318.5" r="6.6"/><circle cx="534.3" cy="406.3" r="6.6"/><circle cx="314.3" cy="339.4" r="6.6"/><circle cx="526.4" cy="308.5" r="6.6"/><circle cx="354.1" cy="265.3" r="6.6"/><circle cx="459.1" cy="454.6" r="6.6"/><circle cx="468.4" cy="404.4" r="6.6"/><circle cx="326.7" cy="266.6" r="6.6"/><circle cx="341.2" cy="262.4" r="6.6"/><circle cx="445.6" cy="415.8" r="6.6"/><circle cx="514.4" cy="338.3" r="6.6"/><circle cx="483.6" cy="221.8" r="6.6"/><circle cx="325.5" cy="369.6" r="6.6"/><circle cx="522.8" cy="430.2" r="6.6"/><circle cx="352.3" cy="284.2" r="6.6"/><circle cx="325.4" cy="349.0" r="6.6"/><circle cx="484.2" cy="398.8" r="6.6"/><circle cx="322.9" cy="332.4" r="6.6"/><circle cx="494.6" cy="294.0" r="6.6"/><circle cx="437.4" cy="239.3" r="6.6"/><circle cx="333.2" cy="388.5" r="6.6"/><circle cx="340.5" cy="397.2" r="6.6"/><circle cx="435.4" cy="418.7" r="6.6"/><circle cx="416.2" cy="417.6" r="6.6"/><circle cx="482.7" cy="282.9" r="6.6"/><circle cx="327.0" cy="315.3" r="6.6"/><circle cx="334.5" cy="294.0" r="6.6"/><circle cx="347.8" cy="382.4" r="6.6"/><circle cx="437.6" cy="255.5" r="6.6"/><circle cx="314.7" cy="344.3" r="6.6"/><circle cx="429.6" cy="217.5" r="6.6"/><circle cx="334.2" cy="400.2" r="6.6"/><circle cx="335.9" cy="292.9" r="6.6"/><circle cx="427.4" cy="418.1" r="6.6"/><circle cx="311.5" cy="392.1" r="6.6"/><circle cx="531.4" cy="335.8" r="6.6"/><circle cx="337.2" cy="295.3" r="6.6"/><circle cx="498.1" cy="313.2" r="6.6"/><circle cx="318.6" cy="337.4" r="6.6"/><circle cx="335.3" cy="381.8" r="6.6"/><circle cx="398.1" cy="234.4" r="6.6"/><circle cx="298.1" cy="337.7" r="6.6"/><circle cx="362.9" cy="239.2" r="6.6"/><circle cx="462.6" cy="403.4" r="6.6"/><circle cx="386.6" cy="463.2" r="6.6"/><circle cx="327.2" cy="366.6" r="6.6"/><circle cx="396.2" cy="416.0" r="6.6"/><circle cx="320.0" cy="347.4" r="6.6"/><circle cx="520.5" cy="384.8" r="6.6"/><circle cx="488.6" cy="379.4" r="6.6"/><circle cx="424.3" cy="254.0" r="6.6"/><circle cx="337.7" cy="306.9" r="6.6"/><circle cx="376.0" cy="420.6" r="6.6"/><circle cx="457.9" cy="262.5" r="6.6"/><circle cx="301.2" cy="314.2" r="6.6"/><circle cx="316.1" cy="336.9" r="6.6"/><circle cx="332.4" cy="420.0" r="6.6"/><circle cx="355.3" cy="392.8" r="6.6"/><circle cx="333.9" cy="404.3" r="6.6"/><circle cx="481.1" cy="284.1" r="6.6"/><circle cx="422.4" cy="259.6" r="6.6"/><circle cx="510.0" cy="373.6" r="6.6"/><circle cx="517.1" cy="302.9" r="6.6"/><circle cx="360.4" cy="394.4" r="6.6"/><circle cx="476.8" cy="409.9" r="6.6"/><circle cx="499.0" cy="399.3" r="6.6"/><circle cx="438.7" cy="414.4" r="6.6"/><circle cx="340.5" cy="399.6" r="6.6"/><circle cx="394.1" cy="258.5" r="6.6"/><circle cx="335.5" cy="365.3" r="6.6"/><circle cx="422.8" cy="432.4" r="6.6"/><circle cx="500.7" cy="317.8" r="6.6"/><circle cx="439.9" cy="410.7" r="6.6"/><circle cx="506.8" cy="287.7" r="6.6"/><circle cx="545.6" cy="345.0" r="6.6"/><circle cx="296.8" cy="317.3" r="6.6"/><circle cx="406.5" cy="224.6" r="6.6"/><circle cx="314.2" cy="298.9" r="6.6"/><circle cx="325.4" cy="390.9" r="6.6"/><circle cx="402.7" cy="449.9" r="6.6"/><circle cx="472.8" cy="278.0" r="6.6"/><circle cx="529.5" cy="405.1" r="6.6"/><circle cx="346.6" cy="254.6" r="6.6"/><circle cx="504.7" cy="349.0" r="6.6"/><circle cx="297.0" cy="381.7" r="6.6"/><circle cx="332.9" cy="270.6" r="6.6"/><circle cx="376.7" cy="418.5" r="6.6"/><circle cx="309.6" cy="381.4" r="6.6"/><circle cx="474.3" cy="400.9" r="6.6"/><circle cx="308.6" cy="306.5" r="6.6"/><circle cx="345.6" cy="292.3" r="6.6"/><circle cx="459.5" cy="266.2" r="6.6"/><circle cx="508.9" cy="332.1" r="6.6"/><circle cx="510.5" cy="334.9" r="6.6"/><circle cx="405.1" cy="243.9" r="6.6"/><circle cx="495.1" cy="390.0" r="6.6"/><circle cx="478.0" cy="390.0" r="6.6"/><circle cx="459.4" cy="412.9" r="6.6"/><circle cx="394.0" cy="259.2" r="6.6"/><circle cx="507.6" cy="336.3" r="6.6"/><circle cx="496.2" cy="245.7" r="6.6"/><circle cx="486.3" cy="276.1" r="6.6"/><circle cx="421.6" cy="437.9" r="6.6"/><circle cx="316.5" cy="277.9" r="6.6"/><circle cx="511.4" cy="312.4" r="6.6"/><circle cx="387.4" cy="262.3" r="6.6"/><circle cx="323.2" cy="306.2" r="6.6"/><circle cx="505.9" cy="323.6" r="6.6"/><circle cx="507.6" cy="323.6" r="6.6"/><circle cx="495.2" cy="280.8" r="6.6"/><circle cx="307.1" cy="360.7" r="6.6"/><circle cx="414.3" cy="439.0" r="6.6"/><circle cx="498.1" cy="303.4" r="6.6"/><circle cx="542.2" cy="381.3" r="6.6"/><circle cx="445.3" cy="436.4" r="6.6"/><circle cx="540.7" cy="351.2" r="6.6"/><circle cx="512.8" cy="326.4" r="6.6"/><circle cx="303.5" cy="380.2" r="6.6"/><circle cx="452.5" cy="429.4" r="6.6"/><circle cx="472.0" cy="260.3" r="6.6"/><circle cx="294.1" cy="355.4" r="6.6"/><circle cx="518.3" cy="368.9" r="6.6"/><circle cx="317.9" cy="353.8" r="6.6"/><circle cx="332.6" cy="368.5" r="6.6"/><circle cx="482.6" cy="401.5" r="6.6"/><circle cx="486.0" cy="436.2" r="6.6"/><circle cx="351.7" cy="276.9" r="6.6"/><circle cx="380.6" cy="240.8" r="6.6"/><circle cx="446.8" cy="425.5" r="6.6"/><circle cx="362.9" cy="268.6" r="6.6"/><circle cx="405.5" cy="427.0" r="6.6"/><circle cx="306.2" cy="355.5" r="6.6"/><circle cx="458.5" cy="415.0" r="6.6"/><circle cx="320.2" cy="370.9" r="6.6"/><circle cx="383.6" cy="422.6" r="6.6"/><circle cx="500.1" cy="310.3" r="6.6"/><circle cx="422.4" cy="228.6" r="6.6"/><circle cx="312.7" cy="401.7" r="6.6"/><circle cx="342.6" cy="386.5" r="6.6"/><circle cx="457.2" cy="265.2" r="6.6"/><circle cx="476.0" cy="261.7" r="6.6"/><circle cx="426.2" cy="430.6" r="6.6"/><circle cx="500.6" cy="363.1" r="6.6"/><circle cx="447.5" cy="258.5" r="6.6"/><circle cx="432.5" cy="424.2" r="6.6"/><circle cx="331.9" cy="320.0" r="6.6"/><circle cx="407.7" cy="252.9" r="6.6"/><circle cx="300.5" cy="344.7" r="6.6"/><circle cx="304.1" cy="345.2" r="6.6"/><circle cx="408.4" cy="228.6" r="6.6"/><circle cx="518.1" cy="415.5" r="6.6"/><circle cx="504.8" cy="381.4" r="6.6"/><circle cx="341.9" cy="259.0" r="6.6"/><circle cx="472.9" cy="242.0" r="6.6"/><circle cx="521.1" cy="371.7" r="6.6"/><circle cx="395.1" cy="421.3" r="6.6"/><circle cx="517.1" cy="244.0" r="6.6"/><circle cx="431.3" cy="259.7" r="6.6"/><circle cx="324.1" cy="357.4" r="6.6"/><circle cx="276.2" cy="347.2" r="6.6"/><circle cx="509.8" cy="316.0" r="6.6"/><circle cx="506.8" cy="396.6" r="6.6"/><circle cx="368.3" cy="267.4" r="6.6"/><circle cx="400.2" cy="414.6" r="6.6"/><circle cx="468.5" cy="451.3" r="6.6"/><circle cx="384.2" cy="244.0" r="6.6"/><circle cx="320.0" cy="333.3" r="6.6"/><circle cx="372.8" cy="422.8" r="6.6"/><circle cx="325.8" cy="281.6" r="6.6"/><circle cx="430.9" cy="242.8" r="6.6"/><circle cx="277.7" cy="365.2" r="6.6"/><circle cx="313.4" cy="328.0" r="6.6"/><circle cx="441.1" cy="258.3" r="6.6"/><circle cx="462.7" cy="261.9" r="6.6"/><circle cx="464.5" cy="222.6" r="6.6"/><circle cx="297.3" cy="370.0" r="6.6"/><circle cx="425.2" cy="251.9" r="6.6"/><circle cx="533.7" cy="357.1" r="6.6"/><circle cx="524.8" cy="387.6" r="6.6"/><circle cx="331.3" cy="313.4" r="6.6"/><circle cx="329.1" cy="303.6" r="6.6"/><circle cx="313.1" cy="394.5" r="6.6"/><circle cx="346.0" cy="270.0" r="6.6"/><circle cx="324.9" cy="300.0" r="6.6"/><circle cx="332.4" cy="256.4" r="6.6"/><circle cx="487.7" cy="298.0" r="6.6"/><circle cx="485.5" cy="391.9" r="6.6"/><circle cx="333.8" cy="366.5" r="6.6"/><circle cx="394.5" cy="426.9" r="6.6"/><circle cx="324.3" cy="389.0" r="6.6"/><circle cx="356.9" cy="273.2" r="6.6"/><circle cx="500.7" cy="336.6" r="6.6"/><circle cx="456.0" cy="262.7" r="6.6"/><circle cx="481.6" cy="440.2" r="6.6"/><circle cx="458.3" cy="402.9" r="6.6"/><circle cx="363.0" cy="217.9" r="6.6"/><circle cx="458.8" cy="409.9" r="6.6"/><circle cx="331.5" cy="301.9" r="6.6"/><circle cx="337.5" cy="364.1" r="6.6"/><circle cx="369.3" cy="271.5" r="6.6"/><circle cx="469.0" cy="241.5" r="6.6"/><circle cx="347.6" cy="435.1" r="6.6"/><circle cx="422.1" cy="247.8" r="6.6"/><circle cx="370.7" cy="265.7" r="6.6"/><circle cx="476.1" cy="254.3" r="6.6"/><circle cx="393.3" cy="238.5" r="6.6"/><circle cx="532.7" cy="375.6" r="6.6"/><circle cx="477.6" cy="271.5" r="6.6"/><circle cx="401.7" cy="251.4" r="6.6"/><circle cx="510.8" cy="353.1" r="6.6"/><circle cx="508.0" cy="277.3" r="6.6"/><circle cx="484.7" cy="389.2" r="6.6"/><circle cx="383.0" cy="414.9" r="6.6"/><circle cx="456.5" cy="415.8" r="6.6"/><circle cx="322.5" cy="348.7" r="6.6"/><circle cx="474.0" cy="405.2" r="6.6"/><circle cx="456.7" cy="268.7" r="6.6"/><circle cx="430.6" cy="234.5" r="6.6"/><circle cx="496.9" cy="262.8" r="6.6"/><circle cx="312.3" cy="319.5" r="6.6"/><circle cx="382.3" cy="424.6" r="6.6"/><circle cx="357.4" cy="400.2" r="6.6"/><circle cx="384.6" cy="245.8" r="6.6"/><circle cx="499.4" cy="333.2" r="6.6"/><circle cx="324.1" cy="322.2" r="6.6"/><circle cx="370.3" cy="421.9" r="6.6"/><circle cx="542.7" cy="348.3" r="6.6"/><circle cx="324.3" cy="348.4" r="6.6"/><circle cx="316.8" cy="422.6" r="6.6"/><circle cx="361.6" cy="410.6" r="6.6"/><circle cx="484.6" cy="406.7" r="6.6"/><circle cx="506.6" cy="375.0" r="6.6"/><circle cx="494.4" cy="304.6" r="6.6"/><circle cx="346.9" cy="266.9" r="6.6"/><circle cx="322.7" cy="332.7" r="6.6"/><circle cx="329.8" cy="281.9" r="6.6"/><circle cx="506.6" cy="291.9" r="6.6"/><circle cx="494.2" cy="375.8" r="6.6"/><circle cx="291.7" cy="321.3" r="6.6"/><circle cx="322.6" cy="322.1" r="6.6"/><circle cx="502.5" cy="316.9" r="6.6"/><circle cx="483.9" cy="233.4" r="6.6"/><circle cx="313.8" cy="402.0" r="6.6"/><circle cx="445.8" cy="421.1" r="6.6"/><circle cx="361.2" cy="410.5" r="6.6"/><circle cx="404.0" cy="447.6" r="6.6"/><circle cx="329.5" cy="342.5" r="6.6"/><circle cx="479.1" cy="283.3" r="6.6"/><circle cx="405.0" cy="416.8" r="6.6"/><circle cx="518.2" cy="270.5" r="6.6"/><circle cx="502.4" cy="303.6" r="6.6"/><circle cx="376.0" cy="433.5" r="6.6"/><circle cx="507.0" cy="336.6" r="6.6"/><circle cx="431.4" cy="261.0" r="6.6"/><circle cx="510.8" cy="340.0" r="6.6"/><circle cx="345.8" cy="258.3" r="6.6"/><circle cx="473.5" cy="400.3" r="6.6"/><circle cx="346.1" cy="267.8" r="6.6"/><circle cx="393.4" cy="426.4" r="6.6"/><circle cx="521.3" cy="357.9" r="6.6"/><circle cx="362.3" cy="424.9" r="6.6"/><circle cx="388.8" cy="418.9" r="6.6"/><circle cx="403.7" cy="422.4" r="6.6"/><circle cx="398.3" cy="424.9" r="6.6"/><circle cx="369.2" cy="402.4" r="6.6"/><circle cx="328.4" cy="327.2" r="6.6"/><circle cx="490.0" cy="241.0" r="6.6"/><circle cx="448.1" cy="414.8" r="6.6"/><circle cx="422.0" cy="436.0" r="6.6"/><circle cx="444.2" cy="244.2" r="6.6"/><circle cx="507.0" cy="269.8" r="6.6"/><circle cx="452.5" cy="263.8" r="6.6"/><circle cx="491.0" cy="257.7" r="6.6"/><circle cx="462.7" cy="435.9" r="6.6"/><circle cx="419.2" cy="445.3" r="6.6"/><circle cx="495.3" cy="378.5" r="6.6"/><circle cx="484.9" cy="262.6" r="6.6"/><circle cx="383.1" cy="418.7" r="6.6"/><circle cx="423.6" cy="241.1" r="6.6"/><circle cx="312.2" cy="350.1" r="6.6"/><circle cx="468.9" cy="437.3" r="6.6"/><circle cx="300.1" cy="295.1" r="6.6"/><circle cx="508.4" cy="347.9" r="6.6"/><circle cx="375.3" cy="440.3" r="6.6"/><circle cx="482.3" cy="399.5" r="6.6"/><circle cx="375.4" cy="259.2" r="6.6"/><circle cx="290.6" cy="321.3" r="6.6"/><circle cx="374.8" cy="424.0" r="6.6"/><circle cx="401.4" cy="453.7" r="6.6"/><circle cx="422.5" cy="249.4" r="6.6"/><circle cx="312.6" cy="392.3" r="6.6"/><circle cx="418.2" cy="427.1" r="6.6"/><circle cx="508.9" cy="324.9" r="6.6"/><circle cx="280.3" cy="367.8" r="6.6"/><circle cx="449.2" cy="261.3" r="6.6"/><circle cx="303.0" cy="370.5" r="6.6"/><circle cx="369.1" cy="407.1" r="6.6"/><circle cx="437.2" cy="238.0" r="6.6"/><circle cx="502.4" cy="346.4" r="6.6"/><circle cx="326.8" cy="347.9" r="6.6"/><circle cx="295.1" cy="291.4" r="6.6"/><circle cx="486.0" cy="397.7" r="6.6"/><circle cx="311.9" cy="407.0" r="6.6"/><circle cx="414.1" cy="249.5" r="6.6"/><circle cx="342.0" cy="249.8" r="6.6"/><circle cx="439.6" cy="412.9" r="6.6"/><circle cx="475.7" cy="257.0" r="6.6"/><circle cx="381.0" cy="437.1" r="6.6"/><circle cx="502.4" cy="344.8" r="6.6"/><circle cx="532.7" cy="327.7" r="6.6"/><circle cx="420.3" cy="236.9" r="6.6"/><circle cx="390.6" cy="431.2" r="6.6"/><circle cx="379.1" cy="248.3" r="6.6"/><circle cx="385.7" cy="419.7" r="6.6"/><circle cx="350.3" cy="409.9" r="6.6"/><circle cx="330.8" cy="361.6" r="6.6"/><circle cx="517.6" cy="327.1" r="6.6"/><circle cx="322.3" cy="367.6" r="6.6"/><circle cx="493.8" cy="419.5" r="6.6"/><circle cx="344.6" cy="262.4" r="6.6"/><circle cx="348.8" cy="263.8" r="6.6"/><circle cx="348.0" cy="406.5" r="6.6"/><circle cx="522.1" cy="399.2" r="6.6"/><circle cx="330.4" cy="244.3" r="6.6"/><circle cx="413.9" cy="419.0" r="6.6"/><circle cx="444.8" cy="249.9" r="6.6"/><circle cx="345.0" cy="399.6" r="6.6"/><circle cx="498.3" cy="304.6" r="6.6"/><circle cx="405.5" cy="414.3" r="6.6"/><circle cx="427.2" cy="249.1" r="6.6"/><circle cx="485.3" cy="413.3" r="6.6"/><circle cx="369.8" cy="418.1" r="6.6"/><circle cx="501.4" cy="335.8" r="6.6"/><circle cx="450.2" cy="427.7" r="6.6"/><circle cx="366.3" cy="409.8" r="6.6"/><circle cx="482.6" cy="249.3" r="6.6"/><circle cx="309.1" cy="297.1" r="6.6"/><circle cx="404.2" cy="439.0" r="6.6"/><circle cx="475.3" cy="392.8" r="6.6"/><circle cx="464.9" cy="274.6" r="6.6"/><circle cx="336.1" cy="361.9" r="6.6"/><circle cx="507.4" cy="270.2" r="6.6"/><circle cx="363.8" cy="439.4" r="6.6"/><circle cx="422.3" cy="420.1" r="6.6"/><circle cx="502.3" cy="395.7" r="6.6"/><circle cx="333.0" cy="310.9" r="6.6"/><circle cx="355.9" cy="251.5" r="6.6"/><circle cx="488.6" cy="261.7" r="6.6"/><circle cx="319.0" cy="366.8" r="6.6"/><circle cx="336.2" cy="360.6" r="6.6"/><circle cx="324.0" cy="328.8" r="6.6"/><circle cx="345.1" cy="381.1" r="6.6"/><circle cx="304.6" cy="311.3" r="6.6"/><circle cx="364.1" cy="397.7" r="6.6"/><circle cx="504.6" cy="381.8" r="6.6"/><circle cx="510.7" cy="284.2" r="6.6"/><circle cx="505.6" cy="373.1" r="6.6"/><circle cx="363.0" cy="243.8" r="6.6"/><circle cx="410.9" cy="454.9" r="6.6"/><circle cx="495.2" cy="409.5" r="6.6"/><circle cx="501.2" cy="320.1" r="6.6"/><circle cx="484.7" cy="263.1" r="6.6"/><circle cx="401.4" cy="253.7" r="6.6"/><circle cx="499.0" cy="385.8" r="6.6"/><circle cx="365.7" cy="257.7" r="6.6"/><circle cx="507.1" cy="329.7" r="6.6"/><circle cx="517.8" cy="312.5" r="6.6"/><circle cx="410.0" cy="250.1" r="6.6"/><circle cx="433.2" cy="259.3" r="6.6"/><circle cx="359.3" cy="415.2" r="6.6"/><circle cx="420.0" cy="243.7" r="6.6"/><circle cx="321.2" cy="365.6" r="6.6"/><circle cx="416.4" cy="434.9" r="6.6"/><circle cx="329.4" cy="324.7" r="6.6"/><circle cx="540.0" cy="338.6" r="6.6"/><circle cx="325.1" cy="410.6" r="6.6"/><circle cx="513.8" cy="310.2" r="6.6"/><circle cx="353.5" cy="244.7" r="6.6"/><circle cx="541.8" cy="331.3" r="6.6"/><circle cx="331.5" cy="269.5" r="6.6"/><circle cx="478.7" cy="436.0" r="6.6"/><circle cx="290.9" cy="320.6" r="6.6"/><circle cx="375.1" cy="268.8" r="6.6"/><circle cx="459.0" cy="262.4" r="6.6"/><circle cx="442.2" cy="416.4" r="6.6"/><circle cx="433.7" cy="420.6" r="6.6"/><circle cx="331.1" cy="248.8" r="6.6"/><circle cx="409.7" cy="430.5" r="6.6"/><circle cx="389.6" cy="413.1" r="6.6"/><circle cx="474.0" cy="271.8" r="6.6"/><circle cx="487.1" cy="259.9" r="6.6"/><circle cx="496.6" cy="317.7" r="6.6"/><circle cx="402.6" cy="250.0" r="6.6"/><circle cx="494.6" cy="303.9" r="6.6"/><circle cx="420.5" cy="422.9" r="6.6"/><circle cx="497.9" cy="369.5" r="6.6"/><circle cx="457.7" cy="419.5" r="6.6"/><circle cx="383.7" cy="431.4" r="6.6"/><circle cx="405.3" cy="239.6" r="6.6"/><circle cx="340.4" cy="284.5" r="6.6"/><circle cx="487.6" cy="274.3" r="6.6"/><circle cx="314.6" cy="324.3" r="6.6"/><circle cx="412.5" cy="450.2" r="6.6"/><circle cx="363.1" cy="427.2" r="6.6"/><circle cx="480.1" cy="271.5" r="6.6"/><circle cx="505.9" cy="278.6" r="6.6"/><circle cx="317.7" cy="342.5" r="6.6"/><circle cx="497.9" cy="295.6" r="6.6"/><circle cx="375.1" cy="235.0" r="6.6"/><circle cx="497.8" cy="390.9" r="6.6"/><circle cx="356.0" cy="424.0" r="6.6"/><circle cx="379.7" cy="259.4" r="6.6"/><circle cx="386.8" cy="227.3" r="6.6"/><circle cx="439.1" cy="260.4" r="6.6"/><circle cx="324.2" cy="343.6" r="6.6"/><circle cx="497.6" cy="363.1" r="6.6"/><circle cx="344.2" cy="383.5" r="6.6"/><circle cx="516.8" cy="337.6" r="6.6"/><circle cx="432.1" cy="246.9" r="6.6"/><circle cx="377.9" cy="254.2" r="6.6"/><circle cx="313.5" cy="297.4" r="6.6"/><circle cx="367.2" cy="413.4" r="6.6"/><circle cx="317.5" cy="341.9" r="6.6"/><circle cx="434.8" cy="261.4" r="6.6"/><circle cx="553.4" cy="343.5" r="6.6"/><circle cx="345.4" cy="268.3" r="6.6"/><circle cx="345.9" cy="424.4" r="6.6"/><circle cx="516.1" cy="304.8" r="6.6"/><circle cx="389.6" cy="424.9" r="6.6"/><circle cx="530.7" cy="338.4" r="6.6"/><circle cx="522.2" cy="388.7" r="6.6"/><circle cx="353.1" cy="414.1" r="6.6"/><circle cx="502.4" cy="300.3" r="6.6"/><circle cx="517.6" cy="330.8" r="6.6"/><circle cx="438.5" cy="436.2" r="6.6"/><circle cx="338.0" cy="366.5" r="6.6"/><circle cx="325.9" cy="399.8" r="6.6"/><circle cx="385.7" cy="260.0" r="6.6"/><circle cx="336.6" cy="306.6" r="6.6"/><circle cx="434.9" cy="421.0" r="6.6"/><circle cx="527.5" cy="289.0" r="6.6"/><circle cx="325.8" cy="392.6" r="6.6"/><circle cx="368.6" cy="233.2" r="6.6"/><circle cx="341.3" cy="418.0" r="6.6"/><circle cx="349.7" cy="234.1" r="6.6"/><circle cx="502.3" cy="311.9" r="6.6"/><circle cx="485.0" cy="388.7" r="6.6"/><circle cx="362.1" cy="251.7" r="6.6"/><circle cx="543.5" cy="354.0" r="6.6"/><circle cx="405.1" cy="257.3" r="6.6"/><circle cx="333.7" cy="415.4" r="6.6"/><circle cx="328.3" cy="353.0" r="6.6"/><circle cx="511.4" cy="373.8" r="6.6"/><circle cx="511.2" cy="362.2" r="6.6"/><circle cx="314.0" cy="253.9" r="6.6"/><circle cx="512.5" cy="353.1" r="6.6"/><circle cx="328.6" cy="329.5" r="6.6"/><circle cx="502.0" cy="276.4" r="6.6"/><circle cx="483.9" cy="260.2" r="6.6"/><circle cx="328.0" cy="292.9" r="6.6"/><circle cx="535.2" cy="299.0" r="6.6"/><circle cx="340.3" cy="300.8" r="6.6"/><circle cx="399.8" cy="255.2" r="6.6"/><circle cx="500.4" cy="398.0" r="6.6"/><circle cx="511.0" cy="377.5" r="6.6"/><circle cx="300.6" cy="298.9" r="6.6"/><circle cx="298.1" cy="315.5" r="6.6"/><circle cx="521.4" cy="320.7" r="6.6"/><circle cx="305.1" cy="348.4" r="6.6"/><circle cx="335.4" cy="309.6" r="6.6"/><circle cx="496.0" cy="311.6" r="6.6"/><circle cx="362.9" cy="414.4" r="6.6"/><circle cx="401.4" cy="443.9" r="6.6"/><circle cx="462.4" cy="417.7" r="6.6"/><circle cx="323.8" cy="349.5" r="6.6"/><circle cx="305.8" cy="294.4" r="6.6"/><circle cx="401.0" cy="418.5" r="6.6"/><circle cx="318.2" cy="319.1" r="6.6"/><circle cx="304.2" cy="342.4" r="6.6"/><circle cx="363.1" cy="420.5" r="6.6"/><circle cx="424.6" cy="252.2" r="6.6"/><circle cx="455.6" cy="423.3" r="6.6"/><circle cx="289.1" cy="390.3" r="6.6"/><circle cx="354.8" cy="397.9" r="6.6"/><circle cx="338.8" cy="293.5" r="6.6"/><circle cx="396.5" cy="415.1" r="6.6"/><circle cx="299.4" cy="344.1" r="6.6"/><circle cx="526.2" cy="338.6" r="6.6"/><circle cx="375.7" cy="253.5" r="6.6"/><circle cx="494.8" cy="252.4" r="6.6"/><circle cx="403.1" cy="452.8" r="6.6"/><circle cx="500.5" cy="299.4" r="6.6"/><circle cx="344.5" cy="290.1" r="6.6"/><circle cx="431.7" cy="437.0" r="6.6"/><circle cx="458.6" cy="237.3" r="6.6"/><circle cx="309.9" cy="279.5" r="6.6"/><circle cx="425.3" cy="424.8" r="6.6"/><circle cx="460.6" cy="262.1" r="6.6"/><circle cx="459.1" cy="246.1" r="6.6"/><circle cx="323.3" cy="367.2" r="6.6"/><circle cx="328.1" cy="351.4" r="6.6"/><circle cx="331.2" cy="308.2" r="6.6"/><circle cx="439.5" cy="244.4" r="6.6"/><circle cx="524.0" cy="337.9" r="6.6"/><circle cx="492.0" cy="405.0" r="6.6"/><circle cx="445.0" cy="426.4" r="6.6"/><circle cx="521.7" cy="350.5" r="6.6"/><circle cx="399.1" cy="248.4" r="6.6"/><circle cx="400.0" cy="230.8" r="6.6"/><circle cx="504.8" cy="321.1" r="6.6"/><circle cx="516.8" cy="324.8" r="6.6"/><circle cx="452.6" cy="266.5" r="6.6"/><circle cx="503.2" cy="345.7" r="6.6"/><circle cx="523.9" cy="309.1" r="6.6"/><circle cx="382.5" cy="246.2" r="6.6"/><circle cx="484.5" cy="388.5" r="6.6"/><circle cx="498.9" cy="275.8" r="6.6"/><circle cx="527.4" cy="317.5" r="6.6"/><circle cx="515.3" cy="339.9" r="6.6"/><circle cx="428.7" cy="418.3" r="6.6"/><circle cx="404.2" cy="414.0" r="6.6"/><circle cx="446.7" cy="264.4" r="6.6"/><circle cx="347.4" cy="396.1" r="6.6"/><circle cx="340.7" cy="239.5" r="6.6"/><circle cx="440.0" cy="428.0" r="6.6"/><circle cx="335.2" cy="360.1" r="6.6"/><circle cx="495.4" cy="399.3" r="6.6"/><circle cx="431.1" cy="453.1" r="6.6"/><circle cx="443.5" cy="262.7" r="6.6"/><circle cx="338.3" cy="273.5" r="6.6"/><circle cx="338.1" cy="291.2" r="6.6"/><circle cx="314.8" cy="296.7" r="6.6"/><circle cx="284.5" cy="300.2" r="6.6"/><circle cx="410.5" cy="419.0" r="6.6"/><circle cx="435.3" cy="259.5" r="6.6"/><circle cx="540.2" cy="325.0" r="6.6"/><circle cx="513.1" cy="306.8" r="6.6"/><circle cx="507.3" cy="368.9" r="6.6"/><circle cx="414.1" cy="437.8" r="6.6"/><circle cx="510.2" cy="283.1" r="6.6"/><circle cx="433.1" cy="436.0" r="6.6"/><circle cx="324.4" cy="401.7" r="6.6"/><circle cx="323.9" cy="323.5" r="6.6"/><circle cx="344.5" cy="395.8" r="6.6"/><circle cx="442.4" cy="429.4" r="6.6"/><circle cx="395.7" cy="251.3" r="6.6"/><circle cx="362.0" cy="398.6" r="6.6"/><circle cx="461.1" cy="271.8" r="6.6"/><circle cx="373.1" cy="426.7" r="6.6"/><circle cx="334.9" cy="405.1" r="6.6"/><circle cx="370.3" cy="260.6" r="6.6"/><circle cx="375.8" cy="263.4" r="6.6"/><circle cx="513.9" cy="353.4" r="6.6"/><circle cx="485.1" cy="403.2" r="6.6"/><circle cx="333.3" cy="368.0" r="6.6"/><circle cx="467.4" cy="249.0" r="6.6"/><circle cx="443.5" cy="253.7" r="6.6"/><circle cx="419.5" cy="416.6" r="6.6"/><circle cx="531.4" cy="397.7" r="6.6"/><circle cx="416.5" cy="437.0" r="6.6"/><circle cx="339.9" cy="391.6" r="6.6"/><circle cx="316.6" cy="286.9" r="6.6"/><circle cx="472.0" cy="398.9" r="6.6"/><circle cx="484.0" cy="284.3" r="6.6"/><circle cx="484.7" cy="279.0" r="6.6"/><circle cx="459.6" cy="221.9" r="6.6"/><circle cx="362.7" cy="430.2" r="6.6"/><circle cx="479.5" cy="420.9" r="6.6"/><circle cx="503.2" cy="279.7" r="6.6"/><circle cx="324.1" cy="292.9" r="6.6"/><circle cx="306.7" cy="282.6" r="6.6"/><circle cx="433.0" cy="445.0" r="6.6"/><circle cx="482.6" cy="260.0" r="6.6"/><circle cx="308.6" cy="298.0" r="6.6"/><circle cx="422.1" cy="255.9" r="6.6"/><circle cx="512.6" cy="320.3" r="6.6"/><circle cx="500.1" cy="344.8" r="6.6"/><circle cx="471.0" cy="246.0" r="6.6"/><circle cx="445.2" cy="245.7" r="6.6"/><circle cx="430.6" cy="254.1" r="6.6"/><circle cx="376.9" cy="414.9" r="6.6"/><circle cx="414.0" cy="425.3" r="6.6"/><circle cx="365.8" cy="255.8" r="6.6"/><circle cx="536.6" cy="326.8" r="6.6"/><circle cx="518.1" cy="342.3" r="6.6"/><circle cx="506.0" cy="356.1" r="6.6"/><circle cx="499.1" cy="373.6" r="6.6"/><circle cx="498.6" cy="388.5" r="6.6"/><circle cx="513.1" cy="335.2" r="6.6"/><circle cx="427.7" cy="231.0" r="6.6"/><circle cx="438.1" cy="261.3" r="6.6"/><circle cx="472.6" cy="403.0" r="6.6"/><circle cx="437.2" cy="420.7" r="6.6"/><circle cx="432.3" cy="415.7" r="6.6"/><circle cx="516.7" cy="339.2" r="6.6"/><circle cx="500.8" cy="378.6" r="6.6"/><circle cx="386.4" cy="264.1" r="6.6"/><circle cx="296.9" cy="374.2" r="6.6"/><circle cx="496.8" cy="279.2" r="6.6"/><circle cx="522.2" cy="403.2" r="6.6"/><circle cx="356.3" cy="427.3" r="6.6"/><circle cx="498.3" cy="314.0" r="6.6"/><circle cx="512.0" cy="306.3" r="6.6"/><circle cx="340.0" cy="304.4" r="6.6"/><circle cx="506.6" cy="373.4" r="6.6"/><circle cx="549.0" cy="319.1" r="6.6"/><circle cx="366.8" cy="239.3" r="6.6"/><circle cx="364.0" cy="230.2" r="6.6"/><circle cx="315.7" cy="305.2" r="6.6"/><circle cx="340.2" cy="263.2" r="6.6"/><circle cx="448.8" cy="251.6" r="6.6"/><circle cx="328.2" cy="347.7" r="6.6"/><circle cx="400.8" cy="251.4" r="6.6"/><circle cx="440.4" cy="242.0" r="6.6"/><circle cx="329.6" cy="297.3" r="6.6"/><circle cx="424.6" cy="426.3" r="6.6"/><circle cx="311.5" cy="372.7" r="6.6"/><circle cx="393.8" cy="458.9" r="6.6"/><circle cx="327.7" cy="316.0" r="6.6"/><circle cx="354.9" cy="402.3" r="6.6"/><circle cx="330.9" cy="280.7" r="6.6"/><circle cx="489.5" cy="282.4" r="6.6"/><circle cx="413.6" cy="248.7" r="6.6"/><circle cx="377.3" cy="260.8" r="6.6"/><circle cx="500.7" cy="359.3" r="6.6"/><circle cx="450.6" cy="461.4" r="6.6"/><circle cx="341.3" cy="384.9" r="6.6"/><circle cx="427.8" cy="435.8" r="6.6"/><circle cx="483.6" cy="287.8" r="6.6"/><circle cx="520.6" cy="365.5" r="6.6"/><circle cx="313.1" cy="328.4" r="6.6"/><circle cx="459.4" cy="426.1" r="6.6"/><circle cx="314.3" cy="317.7" r="6.6"/><circle cx="385.0" cy="430.0" r="6.6"/><circle cx="286.7" cy="337.8" r="6.6"/><circle cx="301.2" cy="379.1" r="6.6"/><circle cx="503.4" cy="345.2" r="6.6"/><circle cx="471.3" cy="272.3" r="6.6"/><circle cx="485.3" cy="286.4" r="6.6"/><circle cx="479.1" cy="388.4" r="6.6"/><circle cx="327.8" cy="311.7" r="6.6"/><circle cx="427.8" cy="225.8" r="6.6"/><circle cx="556.0" cy="370.8" r="6.6"/><circle cx="433.7" cy="423.6" r="6.6"/><circle cx="504.9" cy="337.0" r="6.6"/><circle cx="311.1" cy="318.8" r="6.6"/><circle cx="479.0" cy="410.5" r="6.6"/><circle cx="441.4" cy="436.1" r="6.6"/><circle cx="502.4" cy="282.2" r="6.6"/><circle cx="385.5" cy="443.5" r="6.6"/><circle cx="361.4" cy="258.6" r="6.6"/><circle cx="501.0" cy="333.3" r="6.6"/><circle cx="423.7" cy="432.0" r="6.6"/><circle cx="493.5" cy="290.2" r="6.6"/><circle cx="417.2" cy="221.5" r="6.6"/><circle cx="310.9" cy="259.8" r="6.6"/><circle cx="484.2" cy="253.9" r="6.6"/><circle cx="465.6" cy="422.4" r="6.6"/><circle cx="497.6" cy="366.4" r="6.6"/><circle cx="502.0" cy="327.7" r="6.6"/><circle cx="317.2" cy="285.7" r="6.6"/><circle cx="334.7" cy="403.8" r="6.6"/><circle cx="508.3" cy="357.9" r="6.6"/><circle cx="356.3" cy="425.8" r="6.6"/><circle cx="542.3" cy="353.3" r="6.6"/><circle cx="451.5" cy="248.2" r="6.6"/><circle cx="394.4" cy="255.6" r="6.6"/><circle cx="377.2" cy="411.7" r="6.6"/><circle cx="350.3" cy="393.1" r="6.6"/><circle cx="409.5" cy="422.5" r="6.6"/><circle cx="317.5" cy="362.1" r="6.6"/><circle cx="313.0" cy="291.6" r="6.6"/><circle cx="394.3" cy="261.9" r="6.6"/><circle cx="294.7" cy="364.4" r="6.6"/><circle cx="410.6" cy="421.8" r="6.6"/><circle cx="324.6" cy="372.8" r="6.6"/><circle cx="498.8" cy="280.8" r="6.6"/><circle cx="481.7" cy="428.5" r="6.6"/><circle cx="517.9" cy="332.6" r="6.6"/><circle cx="502.5" cy="405.5" r="6.6"/><circle cx="415.0" cy="418.8" r="6.6"/><circle cx="329.9" cy="295.7" r="6.6"/><circle cx="392.1" cy="412.1" r="6.6"/><circle cx="501.4" cy="393.5" r="6.6"/><circle cx="503.8" cy="401.6" r="6.6"/><circle cx="341.0" cy="383.4" r="6.6"/><circle cx="370.1" cy="418.2" r="6.6"/><circle cx="329.8" cy="359.1" r="6.6"/><circle cx="371.9" cy="421.0" r="6.6"/><circle cx="407.7" cy="434.8" r="6.6"/><circle cx="437.6" cy="253.7" r="6.6"/><circle cx="404.6" cy="219.6" r="6.6"/><circle cx="529.9" cy="318.8" r="6.6"/><circle cx="496.3" cy="383.8" r="6.6"/><circle cx="321.7" cy="348.4" r="6.6"/><circle cx="498.4" cy="279.4" r="6.6"/><circle cx="472.1" cy="266.6" r="6.6"/><circle cx="317.8" cy="362.0" r="6.6"/><circle cx="390.9" cy="227.7" r="6.6"/><circle cx="352.3" cy="279.1" r="6.6"/><circle cx="493.6" cy="370.2" r="6.6"/><circle cx="422.7" cy="243.5" r="6.6"/><circle cx="347.6" cy="382.5" r="6.6"/><circle cx="401.0" cy="416.1" r="6.6"/><circle cx="500.7" cy="283.0" r="6.6"/><circle cx="430.9" cy="462.8" r="6.6"/><circle cx="471.2" cy="258.3" r="6.6"/><circle cx="323.1" cy="354.9" r="6.6"/><circle cx="381.7" cy="262.7" r="6.6"/><circle cx="398.5" cy="233.9" r="6.6"/><circle cx="283.0" cy="357.4" r="6.6"/><circle cx="322.7" cy="385.5" r="6.6"/><circle cx="414.6" cy="434.7" r="6.6"/><circle cx="498.1" cy="326.6" r="6.6"/><circle cx="514.0" cy="246.7" r="6.6"/><circle cx="478.4" cy="424.2" r="6.6"/><circle cx="324.4" cy="309.4" r="6.6"/><circle cx="352.2" cy="399.4" r="6.6"/><circle cx="332.5" cy="420.0" r="6.6"/><circle cx="369.1" cy="268.8" r="6.6"/><circle cx="470.1" cy="271.9" r="6.6"/><circle cx="350.9" cy="284.0" r="6.6"/><circle cx="381.9" cy="244.0" r="6.6"/><circle cx="455.3" cy="429.2" r="6.6"/><circle cx="492.0" cy="258.2" r="6.6"/><circle cx="412.5" cy="434.1" r="6.6"/><circle cx="327.2" cy="330.8" r="6.6"/><circle cx="318.9" cy="299.6" r="6.6"/><circle cx="537.7" cy="372.1" r="6.6"/><circle cx="456.6" cy="258.7" r="6.6"/><circle cx="534.6" cy="324.3" r="6.6"/><circle cx="401.5" cy="425.5" r="6.6"/><circle cx="524.5" cy="406.4" r="6.6"/><circle cx="395.6" cy="254.8" r="6.6"/><circle cx="508.7" cy="376.0" r="6.6"/><circle cx="349.1" cy="411.1" r="6.6"/><circle cx="322.2" cy="336.8" r="6.6"/><circle cx="500.6" cy="419.0" r="6.6"/><circle cx="463.6" cy="400.6" r="6.6"/><circle cx="390.9" cy="416.3" r="6.6"/><circle cx="393.6" cy="426.7" r="6.6"/><circle cx="486.0" cy="294.7" r="6.6"/><circle cx="463.1" cy="259.6" r="6.6"/><circle cx="330.7" cy="377.5" r="6.6"/><circle cx="340.1" cy="282.7" r="6.6"/><circle cx="409.4" cy="238.4" r="6.6"/><circle cx="341.2" cy="282.1" r="6.6"/><circle cx="481.5" cy="430.8" r="6.6"/><circle cx="351.1" cy="399.4" r="6.6"/><circle cx="510.4" cy="408.8" r="6.6"/><circle cx="383.8" cy="253.0" r="6.6"/><circle cx="369.1" cy="422.2" r="6.6"/><circle cx="491.8" cy="376.1" r="6.6"/><circle cx="448.8" cy="413.7" r="6.6"/><circle cx="498.1" cy="365.2" r="6.6"/><circle cx="340.1" cy="261.5" r="6.6"/><circle cx="344.9" cy="401.5" r="6.6"/><circle cx="509.5" cy="339.0" r="6.6"/><circle cx="326.5" cy="321.3" r="6.6"/><circle cx="338.7" cy="387.6" r="6.6"/><circle cx="443.6" cy="260.1" r="6.6"/><circle cx="497.6" cy="407.7" r="6.6"/><circle cx="316.5" cy="309.4" r="6.6"/><circle cx="502.3" cy="281.2" r="6.6"/><circle cx="340.8" cy="291.0" r="6.6"/><circle cx="482.7" cy="407.2" r="6.6"/><circle cx="460.7" cy="246.9" r="6.6"/><circle cx="357.7" cy="422.0" r="6.6"/><circle cx="380.8" cy="447.3" r="6.6"/><circle cx="320.8" cy="361.1" r="6.6"/><circle cx="456.2" cy="406.3" r="6.6"/><circle cx="292.0" cy="362.7" r="6.6"/><circle cx="280.2" cy="340.2" r="6.6"/><circle cx="395.7" cy="234.8" r="6.6"/><circle cx="455.7" cy="234.8" r="6.6"/><circle cx="320.1" cy="330.4" r="6.6"/><circle cx="409.7" cy="414.7" r="6.6"/><circle cx="334.9" cy="299.6" r="6.6"/><circle cx="509.0" cy="304.2" r="6.6"/><circle cx="455.5" cy="407.9" r="6.6"/><circle cx="312.5" cy="299.9" r="6.6"/><circle cx="482.5" cy="389.0" r="6.6"/><circle cx="358.6" cy="257.1" r="6.6"/><circle cx="452.2" cy="252.8" r="6.6"/><circle cx="321.7" cy="326.7" r="6.6"/><circle cx="485.3" cy="286.9" r="6.6"/><circle cx="506.8" cy="308.9" r="6.6"/><circle cx="512.1" cy="296.8" r="6.6"/><circle cx="531.3" cy="322.2" r="6.6"/><circle cx="490.8" cy="291.2" r="6.6"/><circle cx="312.1" cy="344.5" r="6.6"/><circle cx="333.8" cy="297.7" r="6.6"/><circle cx="365.6" cy="413.9" r="6.6"/><circle cx="512.0" cy="302.6" r="6.6"/><circle cx="405.4" cy="426.2" r="6.6"/><circle cx="332.2" cy="280.7" r="6.6"/><circle cx="530.4" cy="286.4" r="6.6"/><circle cx="504.4" cy="313.7" r="6.6"/><circle cx="407.7" cy="248.9" r="6.6"/><circle cx="322.2" cy="321.1" r="6.6"/><circle cx="499.7" cy="394.4" r="6.6"/><circle cx="344.1" cy="413.9" r="6.6"/><circle cx="474.1" cy="404.0" r="6.6"/><circle cx="328.0" cy="352.4" r="6.6"/><circle cx="383.8" cy="412.5" r="6.6"/><circle cx="361.9" cy="262.9" r="6.6"/><circle cx="362.5" cy="406.5" r="6.6"/><circle cx="479.6" cy="255.2" r="6.6"/><circle cx="358.9" cy="237.9" r="6.6"/><circle cx="506.0" cy="324.0" r="6.6"/><circle cx="441.3" cy="423.1" r="6.6"/><circle cx="510.7" cy="351.4" r="6.6"/><circle cx="330.9" cy="329.3" r="6.6"/><circle cx="499.7" cy="376.2" r="6.6"/><circle cx="287.0" cy="295.2" r="6.6"/><circle cx="423.3" cy="446.1" r="6.6"/><circle cx="492.5" cy="297.0" r="6.6"/><circle cx="319.9" cy="341.3" r="6.6"/><circle cx="310.7" cy="319.8" r="6.6"/><circle cx="498.0" cy="355.0" r="6.6"/><circle cx="518.8" cy="361.5" r="6.6"/><circle cx="277.9" cy="310.7" r="6.6"/><circle cx="443.9" cy="254.6" r="6.6"/><circle cx="521.5" cy="396.2" r="6.6"/><circle cx="359.9" cy="400.7" r="6.6"/><circle cx="493.2" cy="364.7" r="6.6"/><circle cx="306.7" cy="308.1" r="6.6"/><circle cx="499.8" cy="296.6" r="6.6"/><circle cx="349.8" cy="252.0" r="6.6"/><circle cx="408.1" cy="244.0" r="6.6"/><circle cx="479.0" cy="393.7" r="6.6"/><circle cx="527.5" cy="278.0" r="6.6"/><circle cx="464.0" cy="425.0" r="6.6"/><circle cx="373.8" cy="404.6" r="6.6"/><circle cx="393.7" cy="449.7" r="6.6"/><circle cx="297.7" cy="392.7" r="6.6"/><circle cx="505.5" cy="255.1" r="6.6"/><circle cx="330.7" cy="426.7" r="6.6"/><circle cx="304.2" cy="392.9" r="6.6"/><circle cx="498.6" cy="290.9" r="6.6"/><circle cx="486.5" cy="392.9" r="6.6"/><circle cx="464.4" cy="409.5" r="6.6"/><circle cx="367.4" cy="442.3" r="6.6"/><circle cx="445.3" cy="413.9" r="6.6"/><circle cx="494.6" cy="385.0" r="6.6"/><circle cx="375.7" cy="257.0" r="6.6"/><circle cx="303.6" cy="377.1" r="6.6"/><circle cx="406.6" cy="256.2" r="6.6"/><circle cx="325.7" cy="330.3" r="6.6"/><circle cx="336.5" cy="277.9" r="6.6"/><circle cx="425.3" cy="259.1" r="6.6"/><circle cx="397.3" cy="441.7" r="6.6"/><circle cx="511.8" cy="246.8" r="6.6"/><circle cx="366.1" cy="403.2" r="6.6"/><circle cx="543.1" cy="358.8" r="6.6"/><circle cx="423.4" cy="428.1" r="6.6"/><circle cx="535.7" cy="336.2" r="6.6"/><circle cx="346.8" cy="281.0" r="6.6"/><circle cx="539.5" cy="393.8" r="6.6"/><circle cx="398.1" cy="417.0" r="6.6"/><circle cx="503.7" cy="292.6" r="6.6"/><circle cx="378.4" cy="428.0" r="6.6"/><circle cx="326.7" cy="372.9" r="6.6"/><circle cx="397.5" cy="230.7" r="6.6"/><circle cx="365.6" cy="220.6" r="6.6"/><circle cx="470.8" cy="414.6" r="6.6"/><circle cx="304.5" cy="408.4" r="6.6"/><circle cx="496.8" cy="256.6" r="6.6"/><circle cx="481.6" cy="286.6" r="6.6"/><circle cx="485.2" cy="251.2" r="6.6"/><circle cx="536.2" cy="328.6" r="6.6"/><circle cx="360.8" cy="258.7" r="6.6"/><circle cx="440.0" cy="246.6" r="6.6"/><circle cx="344.7" cy="385.2" r="6.6"/><circle cx="341.2" cy="390.1" r="6.6"/><circle cx="332.2" cy="351.0" r="6.6"/><circle cx="410.5" cy="415.0" r="6.6"/><circle cx="510.1" cy="387.3" r="6.6"/><circle cx="319.4" cy="330.2" r="6.6"/><circle cx="420.6" cy="424.5" r="6.6"/><circle cx="445.5" cy="411.4" r="6.6"/><circle cx="500.4" cy="320.9" r="6.6"/><circle cx="484.4" cy="432.3" r="6.6"/><circle cx="519.3" cy="350.2" r="6.6"/><circle cx="414.1" cy="447.7" r="6.6"/><circle cx="341.0" cy="268.3" r="6.6"/><circle cx="328.5" cy="335.3" r="6.6"/><circle cx="383.1" cy="265.5" r="6.6"/><circle cx="458.7" cy="407.7" r="6.6"/><circle cx="274.6" cy="322.1" r="6.6"/><circle cx="481.2" cy="253.0" r="6.6"/><circle cx="501.6" cy="369.1" r="6.6"/><circle cx="429.2" cy="228.6" r="6.6"/><circle cx="475.6" cy="266.8" r="6.6"/><circle cx="414.2" cy="451.3" r="6.6"/><circle cx="487.5" cy="286.7" r="6.6"/><circle cx="409.2" cy="432.3" r="6.6"/><circle cx="331.3" cy="349.6" r="6.6"/><circle cx="537.7" cy="310.1" r="6.6"/><circle cx="299.2" cy="329.2" r="6.6"/><circle cx="495.4" cy="359.3" r="6.6"/><circle cx="371.6" cy="441.2" r="6.6"/><circle cx="472.3" cy="266.3" r="6.6"/><circle cx="520.1" cy="288.9" r="6.6"/><circle cx="481.8" cy="226.9" r="6.6"/><circle cx="333.8" cy="408.7" r="6.6"/><circle cx="494.7" cy="245.4" r="6.6"/><circle cx="448.9" cy="251.1" r="6.6"/><circle cx="339.0" cy="278.3" r="6.6"/><circle cx="342.8" cy="295.0" r="6.6"/><circle cx="395.5" cy="227.2" r="6.6"/><circle cx="404.4" cy="258.9" r="6.6"/><circle cx="333.4" cy="363.4" r="6.6"/><circle cx="317.6" cy="366.8" r="6.6"/><circle cx="450.8" cy="408.3" r="6.6"/><circle cx="379.9" cy="247.4" r="6.6"/><circle cx="520.8" cy="349.2" r="6.6"/><circle cx="324.6" cy="378.7" r="6.6"/><circle cx="308.7" cy="403.1" r="6.6"/><circle cx="338.4" cy="273.0" r="6.6"/><circle cx="482.0" cy="275.4" r="6.6"/><circle cx="515.1" cy="294.4" r="6.6"/><circle cx="406.0" cy="229.7" r="6.6"/><circle cx="364.1" cy="406.7" r="6.6"/><circle cx="346.8" cy="291.7" r="6.6"/><circle cx="313.6" cy="293.0" r="6.6"/><circle cx="421.7" cy="452.4" r="6.6"/><circle cx="374.4" cy="232.5" r="6.6"/><circle cx="414.9" cy="252.5" r="6.6"/><circle cx="307.0" cy="280.8" r="6.6"/><circle cx="405.9" cy="258.5" r="6.6"/><circle cx="504.8" cy="340.8" r="6.6"/><circle cx="442.5" cy="242.3" r="6.6"/><circle cx="363.1" cy="442.8" r="6.6"/><circle cx="525.7" cy="374.6" r="6.6"/><circle cx="508.5" cy="363.4" r="6.6"/><circle cx="416.0" cy="418.9" r="6.6"/><circle cx="327.5" cy="314.7" r="6.6"/><circle cx="414.0" cy="426.6" r="6.6"/><circle cx="305.1" cy="305.1" r="6.6"/><circle cx="328.4" cy="344.7" r="6.6"/><circle cx="311.1" cy="373.9" r="6.6"/><circle cx="520.4" cy="311.0" r="6.6"/><circle cx="492.9" cy="418.0" r="6.6"/><circle cx="391.8" cy="261.1" r="6.6"/><circle cx="323.8" cy="365.9" r="6.6"/><circle cx="359.4" cy="272.4" r="6.6"/><circle cx="385.0" cy="410.5" r="6.6"/><circle cx="488.0" cy="393.1" r="6.6"/><circle cx="492.1" cy="366.9" r="6.6"/><circle cx="470.6" cy="414.3" r="6.6"/><circle cx="373.2" cy="222.6" r="6.6"/><circle cx="439.7" cy="256.7" r="6.6"/><circle cx="415.5" cy="445.0" r="6.6"/><circle cx="320.1" cy="412.5" r="6.6"/><circle cx="518.3" cy="382.7" r="6.6"/><circle cx="327.5" cy="328.4" r="6.6"/><circle cx="424.4" cy="257.4" r="6.6"/><circle cx="479.2" cy="439.8" r="6.6"/><circle cx="505.8" cy="350.5" r="6.6"/><circle cx="490.4" cy="422.0" r="6.6"/><circle cx="393.8" cy="423.9" r="6.6"/><circle cx="461.6" cy="413.7" r="6.6"/><circle cx="333.8" cy="371.5" r="6.6"/><circle cx="367.7" cy="402.8" r="6.6"/><circle cx="425.9" cy="238.1" r="6.6"/><circle cx="490.8" cy="427.2" r="6.6"/><circle cx="388.2" cy="440.1" r="6.6"/><circle cx="447.1" cy="245.9" r="6.6"/><circle cx="323.2" cy="294.3" r="6.6"/><circle cx="370.0" cy="241.3" r="6.6"/><circle cx="330.0" cy="302.8" r="6.6"/><circle cx="490.2" cy="379.0" r="6.6"/><circle cx="329.9" cy="434.2" r="6.6"/><circle cx="495.4" cy="290.4" r="6.6"/><circle cx="413.3" cy="257.7" r="6.6"/><circle cx="373.4" cy="269.7" r="6.6"/><circle cx="339.1" cy="387.1" r="6.6"/><circle cx="411.3" cy="255.2" r="6.6"/><circle cx="447.6" cy="423.4" r="6.6"/><circle cx="460.4" cy="253.9" r="6.6"/><circle cx="485.3" cy="404.8" r="6.6"/><circle cx="339.7" cy="304.6" r="6.6"/><circle cx="408.8" cy="417.4" r="6.6"/><circle cx="335.6" cy="276.5" r="6.6"/><circle cx="508.3" cy="271.9" r="6.6"/><circle cx="477.6" cy="257.7" r="6.6"/><circle cx="474.0" cy="392.1" r="6.6"/><circle cx="409.9" cy="418.8" r="6.6"/><circle cx="380.5" cy="414.6" r="6.6"/><circle cx="306.5" cy="257.1" r="6.6"/><circle cx="326.3" cy="314.2" r="6.6"/><circle cx="347.0" cy="397.0" r="6.6"/><circle cx="505.0" cy="342.9" r="6.6"/><circle cx="477.1" cy="399.0" r="6.6"/><circle cx="376.0" cy="435.2" r="6.6"/><circle cx="313.6" cy="336.1" r="6.6"/><circle cx="340.9" cy="393.3" r="6.6"/><circle cx="464.2" cy="401.1" r="6.6"/><circle cx="325.5" cy="410.0" r="6.6"/><circle cx="437.3" cy="439.9" r="6.6"/><circle cx="314.3" cy="308.1" r="6.6"/><circle cx="384.1" cy="410.4" r="6.6"/><circle cx="516.0" cy="280.0" r="6.6"/><circle cx="510.0" cy="321.3" r="6.6"/><circle cx="453.2" cy="414.6" r="6.6"/><circle cx="493.1" cy="296.7" r="6.6"/><circle cx="390.6" cy="263.1" r="6.6"/><circle cx="408.0" cy="417.5" r="6.6"/><circle cx="463.2" cy="410.8" r="6.6"/><circle cx="310.3" cy="382.0" r="6.6"/><circle cx="400.6" cy="431.5" r="6.6"/><circle cx="406.6" cy="428.4" r="6.6"/><circle cx="471.4" cy="397.9" r="6.6"/><circle cx="518.0" cy="282.9" r="6.6"/><circle cx="326.6" cy="275.7" r="6.6"/><circle cx="484.7" cy="384.3" r="6.6"/><circle cx="491.9" cy="293.1" r="6.6"/><circle cx="313.9" cy="272.7" r="6.6"/><circle cx="366.6" cy="248.3" r="6.6"/><circle cx="340.1" cy="375.2" r="6.6"/><circle cx="324.7" cy="366.3" r="6.6"/><circle cx="501.3" cy="320.1" r="6.6"/><circle cx="332.4" cy="349.9" r="6.6"/><circle cx="545.9" cy="349.7" r="6.6"/><circle cx="283.1" cy="328.6" r="6.6"/><circle cx="504.3" cy="302.6" r="6.6"/><circle cx="330.1" cy="326.9" r="6.6"/><circle cx="399.7" cy="240.3" r="6.6"/><circle cx="449.5" cy="227.4" r="6.6"/><circle cx="503.6" cy="291.2" r="6.6"/><circle cx="512.8" cy="398.6" r="6.6"/><circle cx="489.9" cy="294.4" r="6.6"/><circle cx="332.6" cy="405.2" r="6.6"/><circle cx="378.6" cy="414.7" r="6.6"/><circle cx="342.5" cy="291.0" r="6.6"/><circle cx="514.5" cy="325.4" r="6.6"/><circle cx="476.5" cy="417.1" r="6.6"/><circle cx="345.0" cy="418.3" r="6.6"/><circle cx="357.7" cy="407.8" r="6.6"/><circle cx="489.9" cy="396.2" r="6.6"/><circle cx="311.0" cy="373.8" r="6.6"/><circle cx="340.9" cy="430.9" r="6.6"/><circle cx="506.7" cy="322.1" r="6.6"/><circle cx="348.7" cy="430.3" r="6.6"/><circle cx="470.4" cy="416.6" r="6.6"/><circle cx="484.4" cy="380.3" r="6.6"/><circle cx="393.6" cy="259.8" r="6.6"/><circle cx="416.1" cy="414.0" r="6.6"/><circle cx="328.0" cy="413.7" r="6.6"/><circle cx="368.9" cy="426.5" r="6.6"/><circle cx="490.1" cy="281.4" r="6.6"/><circle cx="306.0" cy="334.3" r="6.6"/><circle cx="482.8" cy="391.1" r="6.6"/><circle cx="376.5" cy="408.9" r="6.6"/><circle cx="523.8" cy="343.8" r="6.6"/><circle cx="486.5" cy="294.7" r="6.6"/><circle cx="335.9" cy="395.3" r="6.6"/><circle cx="286.0" cy="393.6" r="6.6"/><circle cx="291.3" cy="338.8" r="6.6"/><circle cx="318.6" cy="341.3" r="6.6"/><circle cx="348.1" cy="414.9" r="6.6"/><circle cx="493.9" cy="298.0" r="6.6"/><circle cx="483.7" cy="278.2" r="6.6"/><circle cx="498.5" cy="346.0" r="6.6"/><circle cx="343.6" cy="268.6" r="6.6"/><circle cx="339.9" cy="397.1" r="6.6"/><circle cx="487.6" cy="387.8" r="6.6"/><circle cx="316.0" cy="342.0" r="6.6"/><circle cx="339.3" cy="414.3" r="6.6"/><circle cx="305.8" cy="381.4" r="6.6"/><circle cx="357.0" cy="255.7" r="6.6"/><circle cx="338.5" cy="252.2" r="6.6"/><circle cx="496.4" cy="300.1" r="6.6"/><circle cx="300.5" cy="347.4" r="6.6"/><circle cx="498.3" cy="366.7" r="6.6"/><circle cx="294.5" cy="377.8" r="6.6"/><circle cx="489.1" cy="380.8" r="6.6"/><circle cx="324.7" cy="295.5" r="6.6"/><circle cx="460.1" cy="403.0" r="6.6"/><circle cx="478.8" cy="264.7" r="6.6"/><circle cx="350.9" cy="281.4" r="6.6"/><circle cx="379.1" cy="412.1" r="6.6"/><circle cx="454.9" cy="260.9" r="6.6"/><circle cx="480.9" cy="220.0" r="6.6"/><circle cx="516.9" cy="375.9" r="6.6"/><circle cx="332.7" cy="296.1" r="6.6"/><circle cx="416.0" cy="232.4" r="6.6"/><circle cx="498.3" cy="288.8" r="6.6"/><circle cx="322.0" cy="424.0" r="6.6"/><circle cx="331.0" cy="316.4" r="6.6"/><circle cx="331.8" cy="362.6" r="6.6"/><circle cx="460.1" cy="262.5" r="6.6"/><circle cx="414.9" cy="444.7" r="6.6"/><circle cx="468.7" cy="277.0" r="6.6"/><circle cx="541.4" cy="306.2" r="6.6"/><circle cx="534.3" cy="361.2" r="6.6"/><circle cx="449.3" cy="448.8" r="6.6"/><circle cx="323.7" cy="358.5" r="6.6"/><circle cx="421.5" cy="237.9" r="6.6"/><circle cx="313.8" cy="266.4" r="6.6"/><circle cx="364.0" cy="260.5" r="6.6"/><circle cx="348.8" cy="289.4" r="6.6"/><circle cx="478.6" cy="414.4" r="6.6"/><circle cx="319.1" cy="413.7" r="6.6"/><circle cx="329.9" cy="400.0" r="6.6"/><circle cx="517.6" cy="389.9" r="6.6"/><circle cx="339.2" cy="268.9" r="6.6"/><circle cx="443.1" cy="410.5" r="6.6"/><circle cx="345.6" cy="287.2" r="6.6"/><circle cx="320.5" cy="287.6" r="6.6"/><circle cx="392.5" cy="435.9" r="6.6"/><circle cx="492.2" cy="305.5" r="6.6"/><circle cx="340.3" cy="251.2" r="6.6"/><circle cx="326.7" cy="293.7" r="6.6"/><circle cx="485.8" cy="288.5" r="6.6"/><circle cx="524.5" cy="307.9" r="6.6"/><circle cx="416.3" cy="433.2" r="6.6"/><circle cx="439.3" cy="217.9" r="6.6"/><circle cx="533.2" cy="364.3" r="6.6"/><circle cx="487.6" cy="292.2" r="6.6"/><circle cx="429.4" cy="251.2" r="6.6"/><circle cx="306.1" cy="358.6" r="6.6"/><circle cx="460.8" cy="425.6" r="6.6"/><circle cx="345.6" cy="283.8" r="6.6"/><circle cx="358.7" cy="410.2" r="6.6"/><circle cx="505.5" cy="311.5" r="6.6"/><circle cx="292.1" cy="354.6" r="6.6"/><circle cx="384.4" cy="414.0" r="6.6"/><circle cx="503.2" cy="320.4" r="6.6"/><circle cx="300.7" cy="359.3" r="6.6"/><circle cx="318.3" cy="374.8" r="6.6"/><circle cx="533.8" cy="323.3" r="6.6"/><circle cx="358.5" cy="422.7" r="6.6"/><circle cx="343.2" cy="276.9" r="6.6"/><circle cx="381.2" cy="245.1" r="6.6"/><circle cx="312.7" cy="293.8" r="6.6"/><circle cx="483.2" cy="235.7" r="6.6"/><circle cx="336.3" cy="306.9" r="6.6"/><circle cx="493.6" cy="376.7" r="6.6"/><circle cx="452.7" cy="258.0" r="6.6"/><circle cx="330.3" cy="291.6" r="6.6"/><circle cx="358.6" cy="264.9" r="6.6"/><circle cx="360.0" cy="258.4" r="6.6"/><circle cx="473.1" cy="265.9" r="6.6"/><circle cx="326.5" cy="386.6" r="6.6"/><circle cx="504.6" cy="284.9" r="6.6"/><circle cx="503.5" cy="391.3" r="6.6"/><circle cx="391.3" cy="250.2" r="6.6"/><circle cx="361.0" cy="269.3" r="6.6"/><circle cx="320.4" cy="391.7" r="6.6"/><circle cx="441.9" cy="257.3" r="6.6"/><circle cx="501.0" cy="370.5" r="6.6"/><circle cx="433.8" cy="241.5" r="6.6"/><circle cx="497.6" cy="238.8" r="6.6"/><circle cx="386.7" cy="241.8" r="6.6"/><circle cx="403.4" cy="438.2" r="6.6"/><circle cx="490.4" cy="395.8" r="6.6"/><circle cx="502.0" cy="315.6" r="6.6"/><circle cx="399.2" cy="418.0" r="6.6"/><circle cx="336.7" cy="278.7" r="6.6"/><circle cx="341.5" cy="276.9" r="6.6"/><circle cx="492.2" cy="298.7" r="6.6"/><circle cx="313.8" cy="368.5" r="6.6"/><circle cx="548.7" cy="345.8" r="6.6"/><circle cx="542.7" cy="380.8" r="6.6"/><circle cx="448.7" cy="261.7" r="6.6"/><circle cx="507.2" cy="346.6" r="6.6"/><circle cx="448.7" cy="245.9" r="6.6"/><circle cx="328.8" cy="309.7" r="6.6"/><circle cx="375.7" cy="264.8" r="6.6"/><circle cx="433.0" cy="221.4" r="6.6"/><circle cx="473.2" cy="249.0" r="6.6"/><circle cx="382.8" cy="230.2" r="6.6"/><circle cx="498.6" cy="349.0" r="6.6"/><circle cx="472.1" cy="417.5" r="6.6"/><circle cx="330.9" cy="339.4" r="6.6"/><circle cx="340.6" cy="379.9" r="6.6"/><circle cx="485.4" cy="401.0" r="6.6"/><circle cx="491.4" cy="304.7" r="6.6"/><circle cx="440.5" cy="413.7" r="6.6"/><circle cx="368.9" cy="404.3" r="6.6"/><circle cx="334.4" cy="401.4" r="6.6"/><circle cx="478.5" cy="410.4" r="6.6"/><circle cx="403.3" cy="229.0" r="6.6"/><circle cx="512.0" cy="354.2" r="6.6"/><circle cx="411.0" cy="253.9" r="6.6"/><circle cx="487.3" cy="275.1" r="6.6"/><circle cx="287.9" cy="324.3" r="6.6"/><circle cx="436.1" cy="433.6" r="6.6"/><circle cx="409.7" cy="424.0" r="6.6"/><circle cx="373.8" cy="415.6" r="6.6"/><circle cx="490.9" cy="295.7" r="6.6"/><circle cx="338.0" cy="290.4" r="6.6"/><circle cx="489.4" cy="401.6" r="6.6"/><circle cx="423.5" cy="429.6" r="6.6"/><circle cx="504.1" cy="339.0" r="6.6"/><circle cx="510.4" cy="326.1" r="6.6"/><circle cx="473.2" cy="397.6" r="6.6"/><circle cx="376.7" cy="262.1" r="6.6"/><circle cx="505.4" cy="306.4" r="6.6"/><circle cx="487.0" cy="295.8" r="6.6"/><circle cx="335.5" cy="298.5" r="6.6"/><circle cx="349.9" cy="272.2" r="6.6"/><circle cx="362.0" cy="268.7" r="6.6"/><circle cx="394.3" cy="412.0" r="6.6"/><circle cx="492.3" cy="267.6" r="6.6"/><circle cx="307.6" cy="307.8" r="6.6"/><circle cx="497.0" cy="320.4" r="6.6"/><circle cx="493.8" cy="302.3" r="6.6"/><circle cx="374.0" cy="237.9" r="6.6"/><circle cx="354.2" cy="393.0" r="6.6"/><circle cx="423.1" cy="247.9" r="6.6"/><circle cx="330.3" cy="351.9" r="6.6"/><circle cx="497.9" cy="309.7" r="6.6"/><circle cx="320.7" cy="324.7" r="6.6"/><circle cx="338.2" cy="286.9" r="6.6"/><circle cx="395.5" cy="418.5" r="6.6"/><circle cx="506.4" cy="371.1" r="6.6"/><circle cx="447.7" cy="228.7" r="6.6"/><circle cx="478.8" cy="420.8" r="6.6"/><circle cx="312.6" cy="346.3" r="6.6"/><circle cx="329.6" cy="359.3" r="6.6"/><circle cx="361.4" cy="277.9" r="6.6"/><circle cx="323.6" cy="318.8" r="6.6"/><circle cx="297.9" cy="287.1" r="6.6"/><circle cx="316.6" cy="395.1" r="6.6"/><circle cx="327.7" cy="281.1" r="6.6"/><circle cx="370.6" cy="258.8" r="6.6"/><circle cx="370.0" cy="264.9" r="6.6"/><circle cx="456.4" cy="408.7" r="6.6"/><circle cx="336.9" cy="293.2" r="6.6"/><circle cx="479.4" cy="260.7" r="6.6"/><circle cx="324.8" cy="306.9" r="6.6"/><circle cx="323.9" cy="341.3" r="6.6"/><circle cx="334.9" cy="284.4" r="6.6"/><circle cx="407.3" cy="222.4" r="6.6"/><circle cx="399.9" cy="461.3" r="6.6"/><circle cx="309.5" cy="338.8" r="6.6"/><circle cx="359.4" cy="277.5" r="6.6"/><circle cx="433.2" cy="413.1" r="6.6"/><circle cx="531.4" cy="306.9" r="6.6"/><circle cx="406.0" cy="254.2" r="6.6"/><circle cx="498.2" cy="310.6" r="6.6"/><circle cx="370.4" cy="442.6" r="6.6"/><circle cx="383.0" cy="431.4" r="6.6"/><circle cx="418.7" cy="425.4" r="6.6"/><circle cx="494.2" cy="291.2" r="6.6"/><circle cx="463.6" cy="439.9" r="6.6"/><circle cx="492.9" cy="377.4" r="6.6"/><circle cx="376.3" cy="259.8" r="6.6"/><circle cx="490.2" cy="281.5" r="6.6"/><circle cx="513.2" cy="405.7" r="6.6"/><circle cx="335.6" cy="364.2" r="6.6"/><circle cx="475.9" cy="267.8" r="6.6"/><circle cx="325.0" cy="316.3" r="6.6"/><circle cx="325.4" cy="355.9" r="6.6"/><circle cx="344.7" cy="399.7" r="6.6"/><circle cx="316.6" cy="408.4" r="6.6"/><circle cx="453.3" cy="428.2" r="6.6"/><circle cx="510.2" cy="368.2" r="6.6"/><circle cx="376.3" cy="414.5" r="6.6"/><circle cx="335.1" cy="308.2" r="6.6"/><circle cx="484.8" cy="384.7" r="6.6"/><circle cx="382.4" cy="429.9" r="6.6"/><circle cx="473.8" cy="391.8" r="6.6"/><circle cx="339.5" cy="277.3" r="6.6"/><circle cx="324.5" cy="250.6" r="6.6"/><circle cx="500.5" cy="355.0" r="6.6"/><circle cx="516.6" cy="409.3" r="6.6"/><circle cx="335.6" cy="413.6" r="6.6"/><circle cx="297.4" cy="349.0" r="6.6"/><circle cx="476.8" cy="416.4" r="6.6"/><circle cx="462.8" cy="420.4" r="6.6"/><circle cx="516.7" cy="364.2" r="6.6"/><circle cx="291.0" cy="349.1" r="6.6"/><circle cx="340.0" cy="392.6" r="6.6"/><circle cx="348.2" cy="268.0" r="6.6"/><circle cx="349.1" cy="284.9" r="6.6"/><circle cx="466.9" cy="259.4" r="6.6"/><circle cx="319.7" cy="308.2" r="6.6"/><circle cx="291.4" cy="335.5" r="6.6"/><circle cx="515.0" cy="390.5" r="6.6"/><circle cx="320.3" cy="334.6" r="6.6"/><circle cx="403.5" cy="425.5" r="6.6"/><circle cx="537.9" cy="356.2" r="6.6"/><circle cx="505.0" cy="388.3" r="6.6"/><circle cx="494.8" cy="400.7" r="6.6"/><circle cx="337.1" cy="288.9" r="6.6"/><circle cx="409.0" cy="222.8" r="6.6"/><circle cx="339.2" cy="273.5" r="6.6"/><circle cx="408.6" cy="443.1" r="6.6"/><circle cx="312.5" cy="284.2" r="6.6"/><circle cx="408.4" cy="257.3" r="6.6"/><circle cx="471.2" cy="262.2" r="6.6"/><circle cx="371.0" cy="443.9" r="6.6"/><circle cx="458.5" cy="413.8" r="6.6"/><circle cx="465.5" cy="271.2" r="6.6"/><circle cx="286.1" cy="329.1" r="6.6"/><circle cx="421.6" cy="420.3" r="6.6"/><circle cx="348.7" cy="234.3" r="6.6"/><circle cx="333.4" cy="351.2" r="6.6"/><circle cx="532.4" cy="346.1" r="6.6"/><circle cx="449.0" cy="420.9" r="6.6"/><circle cx="327.9" cy="341.5" r="6.6"/><circle cx="522.1" cy="320.3" r="6.6"/><circle cx="498.3" cy="324.1" r="6.6"/><circle cx="488.7" cy="378.6" r="6.6"/><circle cx="426.3" cy="414.1" r="6.6"/><circle cx="344.0" cy="292.4" r="6.6"/><circle cx="354.6" cy="239.0" r="6.6"/><circle cx="394.2" cy="259.4" r="6.6"/><circle cx="501.3" cy="281.2" r="6.6"/><circle cx="374.7" cy="415.1" r="6.6"/><circle cx="523.0" cy="300.8" r="6.6"/><circle cx="348.1" cy="277.5" r="6.6"/><circle cx="333.6" cy="370.8" r="6.6"/><circle cx="502.0" cy="270.1" r="6.6"/><circle cx="481.8" cy="402.7" r="6.6"/><circle cx="503.9" cy="340.0" r="6.6"/><circle cx="469.4" cy="270.3" r="6.6"/><circle cx="326.1" cy="280.5" r="6.6"/><circle cx="428.8" cy="422.1" r="6.6"/><circle cx="488.2" cy="296.8" r="6.6"/><circle cx="392.9" cy="251.4" r="6.6"/><circle cx="323.4" cy="255.9" r="6.6"/><circle cx="480.6" cy="252.2" r="6.6"/><circle cx="435.3" cy="241.6" r="6.6"/><circle cx="332.6" cy="371.7" r="6.6"/><circle cx="456.6" cy="258.0" r="6.6"/><circle cx="514.7" cy="385.9" r="6.6"/><circle cx="302.6" cy="297.4" r="6.6"/><circle cx="406.0" cy="418.3" r="6.6"/><circle cx="501.5" cy="355.7" r="6.6"/><circle cx="471.3" cy="260.5" r="6.6"/><circle cx="303.4" cy="334.4" r="6.6"/><circle cx="382.9" cy="250.8" r="6.6"/><circle cx="500.9" cy="314.8" r="6.6"/><circle cx="419.6" cy="255.5" r="6.6"/><circle cx="524.3" cy="322.9" r="6.6"/><circle cx="316.1" cy="359.9" r="6.6"/><circle cx="447.2" cy="443.7" r="6.6"/><circle cx="362.6" cy="272.7" r="6.6"/><circle cx="320.4" cy="349.5" r="6.6"/><circle cx="337.0" cy="366.9" r="6.6"/><circle cx="342.7" cy="297.9" r="6.6"/><circle cx="398.9" cy="443.3" r="6.6"/><circle cx="318.8" cy="311.4" r="6.6"/><circle cx="377.0" cy="243.3" r="6.6"/><circle cx="399.9" cy="413.2" r="6.6"/><circle cx="331.3" cy="320.2" r="6.6"/><circle cx="301.5" cy="275.6" r="6.6"/><circle cx="404.9" cy="415.1" r="6.6"/><circle cx="534.9" cy="299.6" r="6.6"/><circle cx="469.4" cy="397.3" r="6.6"/><circle cx="386.1" cy="415.4" r="6.6"/><circle cx="497.7" cy="380.5" r="6.6"/><circle cx="306.2" cy="353.4" r="6.6"/><circle cx="340.1" cy="279.9" r="6.6"/><circle cx="323.6" cy="416.1" r="6.6"/><circle cx="323.0" cy="279.0" r="6.6"/><circle cx="445.4" cy="261.6" r="6.6"/><circle cx="502.9" cy="313.0" r="6.6"/><circle cx="453.8" cy="246.1" r="6.6"/><circle cx="392.2" cy="251.3" r="6.6"/><circle cx="396.7" cy="424.3" r="6.6"/><circle cx="479.3" cy="275.8" r="6.6"/><circle cx="328.5" cy="354.4" r="6.6"/><circle cx="321.9" cy="361.9" r="6.6"/><circle cx="325.9" cy="359.1" r="6.6"/><circle cx="413.3" cy="460.3" r="6.6"/><circle cx="424.1" cy="416.0" r="6.6"/><circle cx="384.6" cy="411.3" r="6.6"/><circle cx="478.9" cy="419.2" r="6.6"/><circle cx="415.0" cy="440.0" r="6.6"/><circle cx="279.5" cy="345.1" r="6.6"/><circle cx="387.1" cy="409.1" r="6.6"/><circle cx="496.5" cy="359.7" r="6.6"/><circle cx="279.1" cy="298.6" r="6.6"/><circle cx="415.1" cy="442.0" r="6.6"/><circle cx="502.2" cy="277.5" r="6.6"/><circle cx="512.9" cy="412.6" r="6.6"/><circle cx="332.0" cy="335.3" r="6.6"/><circle cx="326.4" cy="344.1" r="6.6"/><circle cx="513.7" cy="326.0" r="6.6"/><circle cx="483.8" cy="383.4" r="6.6"/><circle cx="555.4" cy="327.0" r="6.6"/><circle cx="492.7" cy="401.7" r="6.6"/><circle cx="506.6" cy="309.5" r="6.6"/><circle cx="339.4" cy="281.6" r="6.6"/><circle cx="362.2" cy="398.6" r="6.6"/><circle cx="326.8" cy="386.3" r="6.6"/><circle cx="506.1" cy="337.1" r="6.6"/><circle cx="510.1" cy="342.8" r="6.6"/><circle cx="474.1" cy="410.0" r="6.6"/><circle cx="336.7" cy="382.4" r="6.6"/><circle cx="509.1" cy="331.1" r="6.6"/><circle cx="449.7" cy="265.9" r="6.6"/><circle cx="409.4" cy="255.4" r="6.6"/><circle cx="375.4" cy="405.3" r="6.6"/><circle cx="508.7" cy="282.6" r="6.6"/><circle cx="432.4" cy="246.7" r="6.6"/><circle cx="478.5" cy="272.8" r="6.6"/><circle cx="402.6" cy="236.0" r="6.6"/><circle cx="333.6" cy="356.0" r="6.6"/><circle cx="406.9" cy="254.8" r="6.6"/><circle cx="509.1" cy="336.2" r="6.6"/><circle cx="412.5" cy="259.1" r="6.6"/><circle cx="319.2" cy="338.8" r="6.6"/><circle cx="396.4" cy="235.7" r="6.6"/><circle cx="322.6" cy="333.7" r="6.6"/><circle cx="495.6" cy="253.5" r="6.6"/><circle cx="382.2" cy="243.8" r="6.6"/><circle cx="334.5" cy="364.9" r="6.6"/><circle cx="470.4" cy="396.4" r="6.6"/><circle cx="396.8" cy="458.2" r="6.6"/><circle cx="324.8" cy="374.8" r="6.6"/><circle cx="388.6" cy="234.8" r="6.6"/><circle cx="341.2" cy="376.8" r="6.6"/><circle cx="509.5" cy="314.7" r="6.6"/><circle cx="401.8" cy="421.8" r="6.6"/><circle cx="394.2" cy="419.0" r="6.6"/><circle cx="518.6" cy="354.2" r="6.6"/><circle cx="474.9" cy="420.6" r="6.6"/><circle cx="344.7" cy="295.2" r="6.6"/><circle cx="443.9" cy="247.2" r="6.6"/><circle cx="528.0" cy="334.7" r="6.6"/><circle cx="364.4" cy="265.7" r="6.6"/><circle cx="331.0" cy="368.6" r="6.6"/><circle cx="340.5" cy="247.7" r="6.6"/><circle cx="331.8" cy="409.3" r="6.6"/><circle cx="470.4" cy="278.0" r="6.6"/><circle cx="512.6" cy="351.0" r="6.6"/><circle cx="438.8" cy="414.2" r="6.6"/><circle cx="311.4" cy="356.8" r="6.6"/><circle cx="500.6" cy="384.3" r="6.6"/><circle cx="499.1" cy="282.3" r="6.6"/><circle cx="447.2" cy="408.6" r="6.6"/><circle cx="375.7" cy="421.6" r="6.6"/><circle cx="421.2" cy="229.2" r="6.6"/><circle cx="339.0" cy="438.1" r="6.6"/><circle cx="495.0" cy="257.9" r="6.6"/><circle cx="494.7" cy="309.9" r="6.6"/><circle cx="478.1" cy="426.7" r="6.6"/><circle cx="328.0" cy="351.8" r="6.6"/><circle cx="322.5" cy="351.9" r="6.6"/><circle cx="451.0" cy="411.7" r="6.6"/><circle cx="330.0" cy="306.9" r="6.6"/><circle cx="507.6" cy="334.8" r="6.6"/><circle cx="331.1" cy="410.8" r="6.6"/><circle cx="498.8" cy="357.5" r="6.6"/><circle cx="494.1" cy="233.1" r="6.6"/><circle cx="323.8" cy="416.4" r="6.6"/><circle cx="291.8" cy="340.6" r="6.6"/><circle cx="492.7" cy="366.4" r="6.6"/><circle cx="346.0" cy="388.0" r="6.6"/><circle cx="527.5" cy="299.9" r="6.6"/><circle cx="409.1" cy="233.9" r="6.6"/><circle cx="337.1" cy="296.6" r="6.6"/><circle cx="445.2" cy="260.8" r="6.6"/><circle cx="307.7" cy="371.3" r="6.6"/><circle cx="366.5" cy="230.5" r="6.6"/><circle cx="397.0" cy="441.0" r="6.6"/><circle cx="435.3" cy="261.2" r="6.6"/><circle cx="493.5" cy="410.4" r="6.6"/><circle cx="446.8" cy="252.8" r="6.6"/><circle cx="486.0" cy="279.1" r="6.6"/><circle cx="331.3" cy="328.7" r="6.6"/><circle cx="447.1" cy="456.7" r="6.6"/><circle cx="468.3" cy="261.2" r="6.6"/><circle cx="444.8" cy="243.2" r="6.6"/><circle cx="425.6" cy="444.8" r="6.6"/><circle cx="392.0" cy="423.3" r="6.6"/><circle cx="404.8" cy="219.5" r="6.6"/><circle cx="337.9" cy="372.7" r="6.6"/><circle cx="472.6" cy="416.7" r="6.6"/><circle cx="345.0" cy="269.9" r="6.6"/><circle cx="438.5" cy="245.1" r="6.6"/><circle cx="447.6" cy="427.4" r="6.6"/><circle cx="307.0" cy="310.4" r="6.6"/><circle cx="514.3" cy="404.3" r="6.6"/><circle cx="377.9" cy="259.6" r="6.6"/><circle cx="486.5" cy="414.2" r="6.6"/><circle cx="330.9" cy="434.8" r="6.6"/><circle cx="291.7" cy="280.4" r="6.6"/><circle cx="332.5" cy="299.6" r="6.6"/><circle cx="499.7" cy="400.7" r="6.6"/><circle cx="399.6" cy="431.1" r="6.6"/><circle cx="297.6" cy="308.8" r="6.6"/><circle cx="532.9" cy="307.3" r="6.6"/><circle cx="318.8" cy="362.6" r="6.6"/><circle cx="412.8" cy="252.8" r="6.6"/><circle cx="479.2" cy="402.5" r="6.6"/><circle cx="503.1" cy="339.2" r="6.6"/><circle cx="434.6" cy="426.9" r="6.6"/><circle cx="327.9" cy="339.9" r="6.6"/><circle cx="316.0" cy="399.5" r="6.6"/><circle cx="508.0" cy="383.2" r="6.6"/><circle cx="454.1" cy="263.6" r="6.6"/><circle cx="470.8" cy="423.9" r="6.6"/><circle cx="468.6" cy="253.0" r="6.6"/><circle cx="395.0" cy="420.3" r="6.6"/><circle cx="489.3" cy="263.2" r="6.6"/><circle cx="342.5" cy="288.7" r="6.6"/><circle cx="499.9" cy="351.4" r="6.6"/><circle cx="457.1" cy="269.9" r="6.6"/><circle cx="348.4" cy="392.8" r="6.6"/><circle cx="502.3" cy="358.5" r="6.6"/><circle cx="400.8" cy="226.2" r="6.6"/><circle cx="442.4" cy="426.0" r="6.6"/><circle cx="322.9" cy="255.1" r="6.6"/><circle cx="427.8" cy="414.6" r="6.6"/><circle cx="380.7" cy="417.7" r="6.6"/><circle cx="475.9" cy="427.9" r="6.6"/><circle cx="499.9" cy="343.3" r="6.6"/><circle cx="354.9" cy="280.3" r="6.6"/><circle cx="298.6" cy="302.5" r="6.6"/><circle cx="487.9" cy="402.4" r="6.6"/><circle cx="466.0" cy="416.1" r="6.6"/><circle cx="388.3" cy="418.3" r="6.6"/><circle cx="495.3" cy="364.4" r="6.6"/><circle cx="503.8" cy="342.2" r="6.6"/><circle cx="358.8" cy="394.5" r="6.6"/><circle cx="364.7" cy="418.3" r="6.6"/><circle cx="535.8" cy="346.6" r="6.6"/><circle cx="393.5" cy="258.6" r="6.6"/><circle cx="368.7" cy="260.2" r="6.6"/><circle cx="462.5" cy="267.1" r="6.6"/><circle cx="474.1" cy="434.2" r="6.6"/><circle cx="333.0" cy="313.9" r="6.6"/><circle cx="490.8" cy="271.6" r="6.6"/><circle cx="494.1" cy="292.1" r="6.6"/><circle cx="481.8" cy="268.6" r="6.6"/><circle cx="309.3" cy="311.5" r="6.6"/><circle cx="507.9" cy="374.0" r="6.6"/><circle cx="357.6" cy="272.8" r="6.6"/><circle cx="492.2" cy="420.7" r="6.6"/><circle cx="446.6" cy="418.6" r="6.6"/><circle cx="343.8" cy="389.3" r="6.6"/><circle cx="352.7" cy="220.5" r="6.6"/><circle cx="518.6" cy="376.3" r="6.6"/><circle cx="405.8" cy="256.0" r="6.6"/><circle cx="449.1" cy="407.8" r="6.6"/><circle cx="437.8" cy="262.4" r="6.6"/><circle cx="298.3" cy="388.2" r="6.6"/><circle cx="330.9" cy="376.4" r="6.6"/><circle cx="349.0" cy="280.9" r="6.6"/><circle cx="324.2" cy="274.1" r="6.6"/><circle cx="465.2" cy="259.5" r="6.6"/><circle cx="353.9" cy="284.3" r="6.6"/><circle cx="483.7" cy="390.3" r="6.6"/><circle cx="395.1" cy="255.6" r="6.6"/><circle cx="535.0" cy="371.9" r="6.6"/><circle cx="329.0" cy="322.7" r="6.6"/><circle cx="520.5" cy="314.3" r="6.6"/><circle cx="498.5" cy="376.1" r="6.6"/><circle cx="520.5" cy="306.4" r="6.6"/><circle cx="526.2" cy="358.0" r="6.6"/><circle cx="305.8" cy="318.5" r="6.6"/><circle cx="356.7" cy="411.0" r="6.6"/><circle cx="515.7" cy="388.0" r="6.6"/><circle cx="546.6" cy="336.5" r="6.6"/><circle cx="424.5" cy="236.4" r="6.6"/><circle cx="313.5" cy="369.8" r="6.6"/><circle cx="515.7" cy="307.5" r="6.6"/><circle cx="284.3" cy="333.2" r="6.6"/><circle cx="397.2" cy="260.9" r="6.6"/><circle cx="465.6" cy="429.1" r="6.6"/><circle cx="478.0" cy="277.2" r="6.6"/><circle cx="366.7" cy="415.5" r="6.6"/><circle cx="328.0" cy="371.5" r="6.6"/><circle cx="301.6" cy="371.5" r="6.6"/><circle cx="487.3" cy="289.5" r="6.6"/><circle cx="460.9" cy="438.0" r="6.6"/><circle cx="306.7" cy="319.7" r="6.6"/><circle cx="326.9" cy="350.1" r="6.6"/><circle cx="304.7" cy="288.0" r="6.6"/><circle cx="319.8" cy="277.9" r="6.6"/><circle cx="385.2" cy="433.0" r="6.6"/><circle cx="315.0" cy="387.3" r="6.6"/><circle cx="396.1" cy="246.0" r="6.6"/><circle cx="349.7" cy="233.9" r="6.6"/><circle cx="494.7" cy="267.5" r="6.6"/><circle cx="304.0" cy="336.9" r="6.6"/><circle cx="323.7" cy="343.2" r="6.6"/><circle cx="435.3" cy="253.6" r="6.6"/><circle cx="493.9" cy="407.5" r="6.6"/><circle cx="502.5" cy="413.4" r="6.6"/><circle cx="484.9" cy="259.7" r="6.6"/><circle cx="428.5" cy="443.2" r="6.6"/><circle cx="343.3" cy="385.9" r="6.6"/><circle cx="428.0" cy="424.6" r="6.6"/><circle cx="319.7" cy="379.0" r="6.6"/><circle cx="499.8" cy="319.6" r="6.6"/><circle cx="459.4" cy="406.0" r="6.6"/><circle cx="467.3" cy="266.0" r="6.6"/><circle cx="479.2" cy="253.9" r="6.6"/><circle cx="481.0" cy="267.5" r="6.6"/><circle cx="344.8" cy="411.7" r="6.6"/><circle cx="441.6" cy="412.2" r="6.6"/><circle cx="388.5" cy="426.9" r="6.6"/><circle cx="416.2" cy="250.7" r="6.6"/><circle cx="437.9" cy="255.6" r="6.6"/><circle cx="311.7" cy="367.9" r="6.6"/><circle cx="327.9" cy="309.7" r="6.6"/><circle cx="378.1" cy="458.4" r="6.6"/><circle cx="401.4" cy="460.4" r="6.6"/><circle cx="306.6" cy="319.5" r="6.6"/><circle cx="331.6" cy="341.2" r="6.6"/><circle cx="497.8" cy="378.6" r="6.6"/><circle cx="504.5" cy="356.0" r="6.6"/><circle cx="335.5" cy="312.4" r="6.6"/><circle cx="431.4" cy="245.4" r="6.6"/><circle cx="469.4" cy="274.1" r="6.6"/><circle cx="317.3" cy="302.9" r="6.6"/><circle cx="326.2" cy="313.9" r="6.6"/><circle cx="339.1" cy="402.1" r="6.6"/><circle cx="457.2" cy="263.5" r="6.6"/><circle cx="480.6" cy="232.3" r="6.6"/><circle cx="330.4" cy="374.7" r="6.6"/><circle cx="358.5" cy="268.5" r="6.6"/><circle cx="331.8" cy="373.9" r="6.6"/><circle cx="503.2" cy="385.0" r="6.6"/><circle cx="485.1" cy="231.4" r="6.6"/><circle cx="337.0" cy="406.6" r="6.6"/><circle cx="471.7" cy="437.0" r="6.6"/><circle cx="322.6" cy="342.4" r="6.6"/><circle cx="403.1" cy="418.4" r="6.6"/><circle cx="406.1" cy="244.2" r="6.6"/><circle cx="444.4" cy="441.4" r="6.6"/><circle cx="553.4" cy="360.5" r="6.6"/><circle cx="299.5" cy="372.6" r="6.6"/><circle cx="498.0" cy="311.7" r="6.6"/><circle cx="484.1" cy="398.2" r="6.6"/><circle cx="336.6" cy="283.3" r="6.6"/><circle cx="352.0" cy="237.1" r="6.6"/><circle cx="505.2" cy="364.7" r="6.6"/><circle cx="494.1" cy="294.0" r="6.6"/><circle cx="328.9" cy="332.4" r="6.6"/><circle cx="499.0" cy="312.6" r="6.6"/><circle cx="463.3" cy="269.9" r="6.6"/><circle cx="386.6" cy="415.8" r="6.6"/><circle cx="505.7" cy="413.7" r="6.6"/><circle cx="513.3" cy="326.3" r="6.6"/><circle cx="316.6" cy="394.5" r="6.6"/><circle cx="457.8" cy="250.8" r="6.6"/><circle cx="515.9" cy="311.7" r="6.6"/><circle cx="375.3" cy="242.1" r="6.6"/><circle cx="309.6" cy="292.3" r="6.6"/><circle cx="395.6" cy="257.7" r="6.6"/><circle cx="488.9" cy="437.2" r="6.6"/><circle cx="308.2" cy="377.3" r="6.6"/><circle cx="358.4" cy="423.5" r="6.6"/><circle cx="496.6" cy="309.3" r="6.6"/><circle cx="316.0" cy="370.2" r="6.6"/><circle cx="418.0" cy="441.6" r="6.6"/><circle cx="498.3" cy="362.9" r="6.6"/><circle cx="487.5" cy="431.9" r="6.6"/><circle cx="477.1" cy="442.8" r="6.6"/><circle cx="296.6" cy="338.4" r="6.6"/><circle cx="328.2" cy="341.4" r="6.6"/><circle cx="312.7" cy="336.3" r="6.6"/><circle cx="346.2" cy="288.1" r="6.6"/><circle cx="374.9" cy="261.5" r="6.6"/><circle cx="408.8" cy="419.7" r="6.6"/><circle cx="381.9" cy="244.4" r="6.6"/><circle cx="330.7" cy="319.2" r="6.6"/><circle cx="347.7" cy="381.3" r="6.6"/><circle cx="320.7" cy="290.5" r="6.6"/><circle cx="331.8" cy="383.4" r="6.6"/><circle cx="338.6" cy="368.2" r="6.6"/><circle cx="325.9" cy="350.5" r="6.6"/><circle cx="500.1" cy="418.8" r="6.6"/><circle cx="506.3" cy="355.5" r="6.6"/><circle cx="486.0" cy="379.8" r="6.6"/><circle cx="461.6" cy="402.1" r="6.6"/><circle cx="376.4" cy="252.3" r="6.6"/><circle cx="365.0" cy="257.5" r="6.6"/><circle cx="425.1" cy="247.4" r="6.6"/><circle cx="318.6" cy="347.2" r="6.6"/><circle cx="361.8" cy="272.4" r="6.6"/><circle cx="404.4" cy="426.9" r="6.6"/><circle cx="516.3" cy="310.4" r="6.6"/><circle cx="456.2" cy="237.0" r="6.6"/><circle cx="388.9" cy="448.7" r="6.6"/><circle cx="287.5" cy="332.3" r="6.6"/><circle cx="505.2" cy="352.4" r="6.6"/><circle cx="517.2" cy="281.3" r="6.6"/><circle cx="341.7" cy="297.4" r="6.6"/><circle cx="367.9" cy="267.8" r="6.6"/><circle cx="441.2" cy="463.3" r="6.6"/><circle cx="326.1" cy="381.2" r="6.6"/><circle cx="413.0" cy="428.5" r="6.6"/><circle cx="343.3" cy="411.2" r="6.6"/><circle cx="493.3" cy="271.4" r="6.6"/><circle cx="497.1" cy="302.0" r="6.6"/><circle cx="463.9" cy="243.5" r="6.6"/><circle cx="506.1" cy="282.8" r="6.6"/><circle cx="495.4" cy="381.6" r="6.6"/><circle cx="350.9" cy="253.0" r="6.6"/><circle cx="354.3" cy="389.5" r="6.6"/><circle cx="523.3" cy="349.4" r="6.6"/><circle cx="284.5" cy="328.1" r="6.6"/><circle cx="474.9" cy="261.8" r="6.6"/><circle cx="512.2" cy="330.0" r="6.6"/><circle cx="505.0" cy="369.9" r="6.6"/><circle cx="419.8" cy="418.1" r="6.6"/><circle cx="546.2" cy="335.8" r="6.6"/><circle cx="471.4" cy="440.4" r="6.6"/><circle cx="501.0" cy="354.6" r="6.6"/><circle cx="338.4" cy="299.9" r="6.6"/><circle cx="324.8" cy="329.6" r="6.6"/><circle cx="502.4" cy="334.5" r="6.6"/><circle cx="433.8" cy="412.9" r="6.6"/><circle cx="495.2" cy="306.2" r="6.6"/><circle cx="369.8" cy="248.1" r="6.6"/><circle cx="362.0" cy="251.7" r="6.6"/><circle cx="451.0" cy="406.7" r="6.6"/><circle cx="445.3" cy="413.9" r="6.6"/><circle cx="519.9" cy="308.4" r="6.6"/><circle cx="494.7" cy="225.6" r="6.6"/><circle cx="384.8" cy="258.1" r="6.6"/><circle cx="396.2" cy="244.2" r="6.6"/><circle cx="488.9" cy="278.3" r="6.6"/><circle cx="385.3" cy="417.3" r="6.6"/><circle cx="510.8" cy="285.8" r="6.6"/><circle cx="317.3" cy="252.5" r="6.6"/><circle cx="323.3" cy="318.7" r="6.6"/><circle cx="474.6" cy="440.2" r="6.6"/><circle cx="353.5" cy="274.7" r="6.6"/><circle cx="442.5" cy="260.1" r="6.6"/><circle cx="382.2" cy="409.6" r="6.6"/><circle cx="333.5" cy="317.3" r="6.6"/><circle cx="510.4" cy="372.8" r="6.6"/><circle cx="494.9" cy="396.7" r="6.6"/><circle cx="328.8" cy="316.0" r="6.6"/><circle cx="393.3" cy="429.9" r="6.6"/><circle cx="293.4" cy="266.6" r="6.6"/><circle cx="493.1" cy="375.1" r="6.6"/><circle cx="506.7" cy="359.5" r="6.6"/><circle cx="344.0" cy="291.8" r="6.6"/><circle cx="378.6" cy="250.1" r="6.6"/><circle cx="477.8" cy="412.3" r="6.6"/><circle cx="521.7" cy="329.4" r="6.6"/><circle cx="352.1" cy="285.6" r="6.6"/><circle cx="499.1" cy="394.1" r="6.6"/><circle cx="459.9" cy="271.4" r="6.6"/><circle cx="316.9" cy="371.4" r="6.6"/><circle cx="421.9" cy="425.8" r="6.6"/><circle cx="415.8" cy="257.7" r="6.6"/><circle cx="415.1" cy="236.2" r="6.6"/><circle cx="342.0" cy="248.0" r="6.6"/><circle cx="508.3" cy="394.0" r="6.6"/><circle cx="514.1" cy="374.3" r="6.6"/><circle cx="469.6" cy="272.8" r="6.6"/><circle cx="383.0" cy="419.6" r="6.6"/><circle cx="320.6" cy="337.0" r="6.6"/><circle cx="386.2" cy="258.1" r="6.6"/><circle cx="382.1" cy="408.0" r="6.6"/><circle cx="454.6" cy="256.5" r="6.6"/><circle cx="456.0" cy="427.2" r="6.6"/><circle cx="352.0" cy="393.1" r="6.6"/><circle cx="422.2" cy="421.4" r="6.6"/><circle cx="483.7" cy="393.5" r="6.6"/><circle cx="534.2" cy="289.0" r="6.6"/><circle cx="389.0" cy="433.7" r="6.6"/><circle cx="456.3" cy="242.9" r="6.6"/><circle cx="355.0" cy="236.1" r="6.6"/><circle cx="488.4" cy="271.1" r="6.6"/><circle cx="487.8" cy="391.0" r="6.6"/><circle cx="393.8" cy="248.5" r="6.6"/><circle cx="397.6" cy="433.2" r="6.6"/><circle cx="460.5" cy="413.0" r="6.6"/><circle cx="320.4" cy="379.4" r="6.6"/><circle cx="312.7" cy="344.7" r="6.6"/><circle cx="513.8" cy="269.3" r="6.6"/><circle cx="413.0" cy="244.2" r="6.6"/><circle cx="329.8" cy="316.9" r="6.6"/><circle cx="471.3" cy="270.3" r="6.6"/><circle cx="489.0" cy="420.8" r="6.6"/><circle cx="404.4" cy="414.1" r="6.6"/><circle cx="501.5" cy="365.3" r="6.6"/><circle cx="494.4" cy="414.9" r="6.6"/><circle cx="395.8" cy="417.9" r="6.6"/><circle cx="517.5" cy="318.1" r="6.6"/><circle cx="376.5" cy="262.9" r="6.6"/><circle cx="459.5" cy="402.5" r="6.6"/><circle cx="490.5" cy="413.1" r="6.6"/><circle cx="374.0" cy="429.0" r="6.6"/><circle cx="420.3" cy="425.1" r="6.6"/><circle cx="339.7" cy="389.4" r="6.6"/><circle cx="343.3" cy="261.7" r="6.6"/><circle cx="384.1" cy="417.5" r="6.6"/><circle cx="310.6" cy="331.8" r="6.6"/><circle cx="490.5" cy="241.2" r="6.6"/><circle cx="365.2" cy="272.5" r="6.6"/><circle cx="333.6" cy="316.2" r="6.6"/><circle cx="453.0" cy="407.7" r="6.6"/><circle cx="501.3" cy="352.3" r="6.6"/><circle cx="464.4" cy="250.8" r="6.6"/><circle cx="472.9" cy="247.9" r="6.6"/><circle cx="343.4" cy="262.3" r="6.6"/><circle cx="331.3" cy="329.3" r="6.6"/><circle cx="389.6" cy="410.3" r="6.6"/><circle cx="312.5" cy="334.7" r="6.6"/><circle cx="510.9" cy="320.8" r="6.6"/><circle cx="431.4" cy="258.8" r="6.6"/><circle cx="478.3" cy="267.1" r="6.6"/><circle cx="449.7" cy="409.6" r="6.6"/><circle cx="455.1" cy="258.0" r="6.6"/><circle cx="373.5" cy="262.8" r="6.6"/><circle cx="483.4" cy="285.9" r="6.6"/><circle cx="406.1" cy="451.8" r="6.6"/><circle cx="323.1" cy="361.9" r="6.6"/><circle cx="309.4" cy="361.7" r="6.6"/><circle cx="424.2" cy="454.2" r="6.6"/><circle cx="385.3" cy="425.8" r="6.6"/><circle cx="403.9" cy="243.9" r="6.6"/><circle cx="466.0" cy="254.8" r="6.6"/><circle cx="323.3" cy="342.9" r="6.6"/><circle cx="506.4" cy="337.3" r="6.6"/><circle cx="304.5" cy="389.3" r="6.6"/><circle cx="298.1" cy="315.2" r="6.6"/><circle cx="509.8" cy="370.9" r="6.6"/><circle cx="337.9" cy="302.8" r="6.6"/><circle cx="343.3" cy="395.0" r="6.6"/><circle cx="337.5" cy="308.6" r="6.6"/><circle cx="505.2" cy="327.7" r="6.6"/><circle cx="492.4" cy="395.9" r="6.6"/><circle cx="513.0" cy="402.5" r="6.6"/><circle cx="318.2" cy="348.1" r="6.6"/><circle cx="440.9" cy="221.3" r="6.6"/><circle cx="337.0" cy="268.8" r="6.6"/><circle cx="521.9" cy="291.0" r="6.6"/><circle cx="465.8" cy="242.3" r="6.6"/><circle cx="338.0" cy="288.3" r="6.6"/><circle cx="391.7" cy="247.1" r="6.6"/><circle cx="378.9" cy="264.4" r="6.6"/><circle cx="520.5" cy="357.1" r="6.6"/><circle cx="341.0" cy="397.9" r="6.6"/><circle cx="512.9" cy="327.0" r="6.6"/><circle cx="463.2" cy="406.1" r="6.6"/><circle cx="358.3" cy="412.7" r="6.6"/><circle cx="513.7" cy="340.4" r="6.6"/><circle cx="308.9" cy="309.8" r="6.6"/><circle cx="382.7" cy="257.0" r="6.6"/><circle cx="492.2" cy="397.5" r="6.6"/><circle cx="335.4" cy="313.2" r="6.6"/><circle cx="534.2" cy="320.5" r="6.6"/><circle cx="496.6" cy="357.1" r="6.6"/><circle cx="467.5" cy="271.3" r="6.6"/><circle cx="502.5" cy="325.9" r="6.6"/><circle cx="374.3" cy="404.7" r="6.6"/><circle cx="486.3" cy="295.4" r="6.6"/><circle cx="495.7" cy="389.5" r="6.6"/><circle cx="529.7" cy="372.5" r="6.6"/><circle cx="294.5" cy="319.1" r="6.6"/><circle cx="332.9" cy="375.2" r="6.6"/><circle cx="454.2" cy="446.8" r="6.6"/><circle cx="510.6" cy="294.3" r="6.6"/><circle cx="517.9" cy="398.8" r="6.6"/><circle cx="341.3" cy="393.3" r="6.6"/><circle cx="491.9" cy="408.9" r="6.6"/><circle cx="519.7" cy="333.4" r="6.6"/><circle cx="500.0" cy="353.2" r="6.6"/><circle cx="398.2" cy="415.1" r="6.6"/><circle cx="518.4" cy="368.2" r="6.6"/><circle cx="454.1" cy="435.1" r="6.6"/><circle cx="363.9" cy="236.2" r="6.6"/><circle cx="404.9" cy="434.9" r="6.6"/><circle cx="464.9" cy="255.9" r="6.6"/><circle cx="516.7" cy="358.4" r="6.6"/><circle cx="466.3" cy="242.6" r="6.6"/><circle cx="478.4" cy="239.1" r="6.6"/><circle cx="484.8" cy="293.9" r="6.6"/><circle cx="432.8" cy="422.2" r="6.6"/><circle cx="357.2" cy="251.3" r="6.6"/><circle cx="406.4" cy="437.4" r="6.6"/><circle cx="548.6" cy="393.3" r="6.6"/><circle cx="320.7" cy="363.5" r="6.6"/><circle cx="424.9" cy="236.8" r="6.6"/><circle cx="449.6" cy="260.0" r="6.6"/><circle cx="399.3" cy="420.3" r="6.6"/><circle cx="350.7" cy="387.3" r="6.6"/><circle cx="471.3" cy="252.7" r="6.6"/><circle cx="403.4" cy="454.3" r="6.6"/><circle cx="484.1" cy="386.7" r="6.6"/><circle cx="500.3" cy="317.2" r="6.6"/><circle cx="475.7" cy="433.6" r="6.6"/><circle cx="458.7" cy="266.5" r="6.6"/><circle cx="484.4" cy="405.4" r="6.6"/><circle cx="448.0" cy="254.8" r="6.6"/><circle cx="429.6" cy="425.5" r="6.6"/><circle cx="315.4" cy="342.2" r="6.6"/><circle cx="519.4" cy="354.1" r="6.6"/><circle cx="524.8" cy="353.2" r="6.6"/><circle cx="484.8" cy="279.1" r="6.6"/><circle cx="346.4" cy="286.0" r="6.6"/><circle cx="499.2" cy="342.1" r="6.6"/><circle cx="378.5" cy="409.0" r="6.6"/><circle cx="489.7" cy="282.0" r="6.6"/><circle cx="421.9" cy="415.0" r="6.6"/><circle cx="433.2" cy="412.9" r="6.6"/><circle cx="424.2" cy="415.9" r="6.6"/><circle cx="354.6" cy="264.8" r="6.6"/><circle cx="353.1" cy="266.9" r="6.6"/><circle cx="426.3" cy="418.0" r="6.6"/><circle cx="456.2" cy="418.9" r="6.6"/><circle cx="313.2" cy="275.5" r="6.6"/><circle cx="353.0" cy="283.4" r="6.6"/><circle cx="500.4" cy="401.1" r="6.6"/><circle cx="496.2" cy="413.1" r="6.6"/><circle cx="495.2" cy="389.8" r="6.6"/><circle cx="368.4" cy="260.9" r="6.6"/><circle cx="328.0" cy="348.7" r="6.6"/><circle cx="328.6" cy="349.8" r="6.6"/><circle cx="466.9" cy="406.9" r="6.6"/><circle cx="324.4" cy="360.6" r="6.6"/><circle cx="512.1" cy="301.1" r="6.6"/><circle cx="470.7" cy="263.5" r="6.6"/><circle cx="343.1" cy="382.4" r="6.6"/><circle cx="447.9" cy="413.3" r="6.6"/><circle cx="481.9" cy="426.8" r="6.6"/><circle cx="374.1" cy="407.3" r="6.6"/><circle cx="486.6" cy="240.8" r="6.6"/><circle cx="346.7" cy="279.7" r="6.6"/><circle cx="433.6" cy="419.1" r="6.6"/><circle cx="435.8" cy="415.7" r="6.6"/><circle cx="508.5" cy="333.9" r="6.6"/><circle cx="298.2" cy="352.6" r="6.6"/><circle cx="372.8" cy="427.4" r="6.6"/><circle cx="500.5" cy="364.3" r="6.6"/><circle cx="413.0" cy="247.0" r="6.6"/><circle cx="436.7" cy="240.6" r="6.6"/><circle cx="482.0" cy="403.0" r="6.6"/><circle cx="338.7" cy="368.8" r="6.6"/><circle cx="545.6" cy="336.6" r="6.6"/><circle cx="379.2" cy="221.1" r="6.6"/><circle cx="430.6" cy="258.3" r="6.6"/><circle cx="313.0" cy="317.9" r="6.6"/><circle cx="405.5" cy="233.9" r="6.6"/><circle cx="502.0" cy="412.2" r="6.6"/><circle cx="456.1" cy="260.7" r="6.6"/><circle cx="527.2" cy="367.9" r="6.6"/><circle cx="343.2" cy="278.6" r="6.6"/><circle cx="440.2" cy="434.7" r="6.6"/><circle cx="498.3" cy="317.5" r="6.6"/><circle cx="333.9" cy="399.9" r="6.6"/><circle cx="516.9" cy="356.8" r="6.6"/><circle cx="445.2" cy="260.9" r="6.6"/><circle cx="468.3" cy="245.3" r="6.6"/><circle cx="316.9" cy="367.2" r="6.6"/><circle cx="494.0" cy="384.0" r="6.6"/><circle cx="355.8" cy="280.7" r="6.6"/><circle cx="491.5" cy="372.8" r="6.6"/><circle cx="425.5" cy="440.7" r="6.6"/><circle cx="464.0" cy="413.6" r="6.6"/><circle cx="377.7" cy="406.6" r="6.6"/><circle cx="481.4" cy="448.1" r="6.6"/><circle cx="338.0" cy="230.3" r="6.6"/><circle cx="425.2" cy="452.8" r="6.6"/><circle cx="314.0" cy="308.8" r="6.6"/><circle cx="500.6" cy="346.8" r="6.6"/><circle cx="356.3" cy="393.8" r="6.6"/><circle cx="525.6" cy="366.4" r="6.6"/><circle cx="498.5" cy="317.7" r="6.6"/><circle cx="312.9" cy="322.7" r="6.6"/><circle cx="444.2" cy="419.2" r="6.6"/><circle cx="441.7" cy="463.0" r="6.6"/><circle cx="442.8" cy="457.9" r="6.6"/><circle cx="436.7" cy="443.8" r="6.6"/><circle cx="427.5" cy="243.5" r="6.6"/><circle cx="421.4" cy="249.9" r="6.6"/><circle cx="355.5" cy="392.7" r="6.6"/><circle cx="332.5" cy="347.0" r="6.6"/><circle cx="497.7" cy="368.5" r="6.6"/><circle cx="504.9" cy="317.9" r="6.6"/><circle cx="322.3" cy="392.0" r="6.6"/><circle cx="392.3" cy="240.1" r="6.6"/><circle cx="348.8" cy="276.4" r="6.6"/><circle cx="310.3" cy="303.3" r="6.6"/><circle cx="387.4" cy="410.4" r="6.6"/><circle cx="321.8" cy="271.1" r="6.6"/><circle cx="415.2" cy="423.1" r="6.6"/><circle cx="498.3" cy="373.1" r="6.6"/><circle cx="389.8" cy="249.6" r="6.6"/><circle cx="476.0" cy="274.6" r="6.6"/><circle cx="360.4" cy="263.6" r="6.6"/><circle cx="329.5" cy="372.4" r="6.6"/><circle cx="379.5" cy="431.5" r="6.6"/><circle cx="538.1" cy="326.6" r="6.6"/><circle cx="389.1" cy="253.8" r="6.6"/><circle cx="493.0" cy="400.1" r="6.6"/><circle cx="460.4" cy="214.9" r="6.6"/><circle cx="494.9" cy="285.8" r="6.6"/><circle cx="332.7" cy="396.7" r="6.6"/><circle cx="317.4" cy="390.3" r="6.6"/><circle cx="306.4" cy="288.1" r="6.6"/><circle cx="479.8" cy="391.3" r="6.6"/><circle cx="454.6" cy="444.5" r="6.6"/><circle cx="507.9" cy="284.9" r="6.6"/><circle cx="331.8" cy="342.7" r="6.6"/><circle cx="344.5" cy="253.9" r="6.6"/><circle cx="509.5" cy="257.2" r="6.6"/><circle cx="336.9" cy="369.5" r="6.6"/><circle cx="541.9" cy="369.0" r="6.6"/><circle cx="395.3" cy="425.4" r="6.6"/><circle cx="355.1" cy="266.2" r="6.6"/><circle cx="470.1" cy="421.3" r="6.6"/><circle cx="357.5" cy="258.6" r="6.6"/><circle cx="331.1" cy="377.2" r="6.6"/><circle cx="317.1" cy="340.9" r="6.6"/><circle cx="374.2" cy="448.7" r="6.6"/><circle cx="399.0" cy="454.0" r="6.6"/><circle cx="353.0" cy="259.5" r="6.6"/><circle cx="342.6" cy="294.6" r="6.6"/><circle cx="432.4" cy="420.3" r="6.6"/><circle cx="505.2" cy="375.4" r="6.6"/><circle cx="462.4" cy="219.7" r="6.6"/><circle cx="375.0" cy="229.2" r="6.6"/><circle cx="475.6" cy="392.6" r="6.6"/><circle cx="332.3" cy="344.7" r="6.6"/><circle cx="521.7" cy="376.4" r="6.6"/><circle cx="528.8" cy="399.5" r="6.6"/><circle cx="412.8" cy="422.8" r="6.6"/><circle cx="436.4" cy="259.5" r="6.6"/><circle cx="406.9" cy="423.0" r="6.6"/><circle cx="471.7" cy="393.9" r="6.6"/><circle cx="316.6" cy="382.9" r="6.6"/><circle cx="303.8" cy="306.5" r="6.6"/><circle cx="487.1" cy="384.2" r="6.6"/><circle cx="456.3" cy="232.9" r="6.6"/><circle cx="350.8" cy="266.0" r="6.6"/><circle cx="474.3" cy="426.5" r="6.6"/><circle cx="436.2" cy="255.6" r="6.6"/><circle cx="339.5" cy="269.1" r="6.6"/><circle cx="427.6" cy="248.4" r="6.6"/><circle cx="400.0" cy="429.5" r="6.6"/><circle cx="432.4" cy="415.0" r="6.6"/><circle cx="490.6" cy="302.8" r="6.6"/><circle cx="468.7" cy="400.8" r="6.6"/><circle cx="480.2" cy="272.2" r="6.6"/><circle cx="513.0" cy="328.3" r="6.6"/><circle cx="505.6" cy="390.1" r="6.6"/><circle cx="494.9" cy="374.7" r="6.6"/><circle cx="319.7" cy="306.9" r="6.6"/><circle cx="523.0" cy="374.6" r="6.6"/><circle cx="296.9" cy="378.2" r="6.6"/><circle cx="501.6" cy="341.1" r="6.6"/><circle cx="404.5" cy="255.7" r="6.6"/><circle cx="439.5" cy="424.9" r="6.6"/><circle cx="359.2" cy="409.8" r="6.6"/><circle cx="334.0" cy="398.7" r="6.6"/><circle cx="290.7" cy="341.5" r="6.6"/><circle cx="312.7" cy="317.8" r="6.6"/><circle cx="321.6" cy="315.1" r="6.6"/><circle cx="340.6" cy="423.0" r="6.6"/><circle cx="396.8" cy="427.1" r="6.6"/><circle cx="383.2" cy="420.2" r="6.6"/><circle cx="326.8" cy="379.9" r="6.6"/><circle cx="505.9" cy="375.9" r="6.6"/><circle cx="436.1" cy="426.9" r="6.6"/><circle cx="494.6" cy="278.3" r="6.6"/><circle cx="493.0" cy="247.2" r="6.6"/><circle cx="408.1" cy="252.1" r="6.6"/><circle cx="540.6" cy="290.2" r="6.6"/><circle cx="367.6" cy="237.2" r="6.6"/><circle cx="343.9" cy="393.0" r="6.6"/><circle cx="514.2" cy="353.5" r="6.6"/><circle cx="470.1" cy="268.1" r="6.6"/><circle cx="397.7" cy="256.4" r="6.6"/><circle cx="338.7" cy="376.3" r="6.6"/><circle cx="313.0" cy="313.5" r="6.6"/><circle cx="406.5" cy="224.3" r="6.6"/><circle cx="398.2" cy="462.6" r="6.6"/><circle cx="454.7" cy="417.1" r="6.6"/><circle cx="521.4" cy="386.4" r="6.6"/><circle cx="398.3" cy="215.3" r="6.6"/><circle cx="297.6" cy="287.1" r="6.6"/><circle cx="487.0" cy="416.8" r="6.6"/><circle cx="486.8" cy="416.5" r="6.6"/><circle cx="477.6" cy="277.9" r="6.6"/><circle cx="374.1" cy="413.4" r="6.6"/><circle cx="334.8" cy="276.4" r="6.6"/><circle cx="361.5" cy="445.2" r="6.6"/><circle cx="341.6" cy="288.7" r="6.6"/><circle cx="413.4" cy="422.1" r="6.6"/><circle cx="472.4" cy="442.2" r="6.6"/><circle cx="508.7" cy="323.8" r="6.6"/><circle cx="513.1" cy="360.5" r="6.6"/><circle cx="313.6" cy="304.2" r="6.6"/><circle cx="512.5" cy="314.0" r="6.6"/><circle cx="427.4" cy="253.5" r="6.6"/><circle cx="395.0" cy="415.9" r="6.6"/><circle cx="521.0" cy="315.9" r="6.6"/><circle cx="329.2" cy="384.9" r="6.6"/><circle cx="447.5" cy="217.0" r="6.6"/><circle cx="490.2" cy="285.2" r="6.6"/><circle cx="379.3" cy="408.4" r="6.6"/><circle cx="372.5" cy="265.6" r="6.6"/><circle cx="555.9" cy="365.4" r="6.6"/><circle cx="468.0" cy="266.8" r="6.6"/><circle cx="501.1" cy="325.0" r="6.6"/><circle cx="325.3" cy="312.0" r="6.6"/><circle cx="487.0" cy="283.8" r="6.6"/><circle cx="510.9" cy="372.7" r="6.6"/><circle cx="510.3" cy="323.6" r="6.6"/><circle cx="334.9" cy="408.5" r="6.6"/><circle cx="355.0" cy="396.2" r="6.6"/><circle cx="498.9" cy="297.5" r="6.6"/><circle cx="497.9" cy="281.2" r="6.6"/><circle cx="467.6" cy="428.4" r="6.6"/><circle cx="476.7" cy="265.0" r="6.6"/><circle cx="400.6" cy="421.2" r="6.6"/><circle cx="356.3" cy="228.2" r="6.6"/><circle cx="475.3" cy="227.1" r="6.6"/><circle cx="347.6" cy="400.2" r="6.6"/><circle cx="356.3" cy="231.6" r="6.6"/><circle cx="389.6" cy="410.7" r="6.6"/><circle cx="324.4" cy="297.7" r="6.6"/><circle cx="429.0" cy="423.8" r="6.6"/><circle cx="393.2" cy="422.7" r="6.6"/><circle cx="507.6" cy="344.1" r="6.6"/><circle cx="519.8" cy="336.9" r="6.6"/><circle cx="545.1" cy="317.1" r="6.6"/><circle cx="310.9" cy="400.5" r="6.6"/><circle cx="406.4" cy="436.5" r="6.6"/><circle cx="340.5" cy="303.8" r="6.6"/><circle cx="456.3" cy="269.0" r="6.6"/><circle cx="517.2" cy="275.6" r="6.6"/><circle cx="455.1" cy="249.8" r="6.6"/><circle cx="496.3" cy="313.5" r="6.6"/><circle cx="463.7" cy="265.7" r="6.6"/><circle cx="335.5" cy="281.3" r="6.6"/><circle cx="452.2" cy="257.9" r="6.6"/><circle cx="498.5" cy="319.4" r="6.6"/><circle cx="547.1" cy="349.7" r="6.6"/><circle cx="328.6" cy="336.2" r="6.6"/><circle cx="375.5" cy="408.1" r="6.6"/><circle cx="332.3" cy="366.1" r="6.6"/><circle cx="345.8" cy="287.9" r="6.6"/><circle cx="374.4" cy="425.5" r="6.6"/><circle cx="326.2" cy="291.2" r="6.6"/><circle cx="373.5" cy="410.4" r="6.6"/><circle cx="312.6" cy="404.7" r="6.6"/><circle cx="491.2" cy="285.9" r="6.6"/><circle cx="485.1" cy="275.5" r="6.6"/><circle cx="364.8" cy="263.7" r="6.6"/><circle cx="431.2" cy="418.5" r="6.6"/><circle cx="323.7" cy="294.1" r="6.6"/><circle cx="466.9" cy="408.7" r="6.6"/><circle cx="513.0" cy="354.5" r="6.6"/><circle cx="371.5" cy="428.2" r="6.6"/><circle cx="473.5" cy="263.2" r="6.6"/><circle cx="507.8" cy="359.6" r="6.6"/><circle cx="451.9" cy="416.7" r="6.6"/><circle cx="413.4" cy="427.7" r="6.6"/><circle cx="360.7" cy="272.5" r="6.6"/><circle cx="343.9" cy="262.7" r="6.6"/><circle cx="361.5" cy="426.6" r="6.6"/><circle cx="366.9" cy="456.2" r="6.6"/><circle cx="470.0" cy="264.7" r="6.6"/><circle cx="332.4" cy="385.8" r="6.6"/><circle cx="341.3" cy="382.4" r="6.6"/><circle cx="314.0" cy="382.4" r="6.6"/><circle cx="478.5" cy="419.3" r="6.6"/><circle cx="500.1" cy="336.0" r="6.6"/><circle cx="510.0" cy="312.4" r="6.6"/><circle cx="329.7" cy="365.1" r="6.6"/><circle cx="508.9" cy="413.3" r="6.6"/><circle cx="444.0" cy="235.1" r="6.6"/><circle cx="357.5" cy="449.2" r="6.6"/><circle cx="449.5" cy="214.6" r="6.6"/><circle cx="415.6" cy="216.2" r="6.6"/><circle cx="428.7" cy="223.2" r="6.6"/><circle cx="390.7" cy="225.5" r="6.6"/><circle cx="406.5" cy="216.2" r="6.6"/><circle cx="416.3" cy="218.0" r="6.6"/><circle cx="376.2" cy="215.7" r="6.6"/><circle cx="496.1" cy="233.4" r="6.6"/><circle cx="491.0" cy="222.0" r="6.6"/><circle cx="470.9" cy="218.8" r="6.6"/><circle cx="428.9" cy="223.3" r="6.6"/><circle cx="451.6" cy="219.8" r="6.6"/><circle cx="450.6" cy="226.9" r="6.6"/><circle cx="460.5" cy="231.0" r="6.6"/><circle cx="424.7" cy="214.0" r="6.6"/><circle cx="421.9" cy="215.7" r="6.6"/><circle cx="493.8" cy="233.2" r="6.6"/><circle cx="453.3" cy="219.6" r="6.6"/><circle cx="460.7" cy="222.9" r="6.6"/><circle cx="371.0" cy="217.5" r="6.6"/><circle cx="498.1" cy="213.9" r="6.6"/><circle cx="490.5" cy="231.5" r="6.6"/><circle cx="383.0" cy="218.3" r="6.6"/><circle cx="461.3" cy="218.2" r="6.6"/><circle cx="500.6" cy="217.7" r="6.6"/><circle cx="458.3" cy="219.8" r="6.6"/><circle cx="379.4" cy="218.6" r="6.6"/><circle cx="495.3" cy="234.0" r="6.6"/><circle cx="446.4" cy="223.2" r="6.6"/><circle cx="488.9" cy="235.7" r="6.6"/><circle cx="402.9" cy="220.9" r="6.6"/><circle cx="370.3" cy="221.5" r="6.6"/><circle cx="490.8" cy="234.8" r="6.6"/><circle cx="380.0" cy="222.7" r="6.6"/><circle cx="497.2" cy="229.9" r="6.6"/><circle cx="365.3" cy="226.0" r="6.6"/><circle cx="401.0" cy="224.4" r="6.6"/><circle cx="414.9" cy="224.6" r="6.6"/><circle cx="473.0" cy="234.8" r="6.6"/><circle cx="422.5" cy="218.2" r="6.6"/><circle cx="372.8" cy="232.1" r="6.6"/><circle cx="377.0" cy="224.2" r="6.6"/><circle cx="444.5" cy="217.5" r="6.6"/><circle cx="497.1" cy="216.9" r="6.6"/><circle cx="489.1" cy="218.5" r="6.6"/><circle cx="478.4" cy="227.7" r="6.6"/><circle cx="446.1" cy="214.0" r="6.6"/><circle cx="487.4" cy="228.4" r="6.6"/><circle cx="391.2" cy="214.2" r="6.6"/><circle cx="477.1" cy="219.2" r="6.6"/><circle cx="470.0" cy="222.5" r="6.6"/><circle cx="499.3" cy="215.7" r="6.6"/><circle cx="441.3" cy="221.8" r="6.6"/><circle cx="366.3" cy="219.4" r="6.6"/><circle cx="387.1" cy="223.7" r="6.6"/><circle cx="504.3" cy="229.7" r="6.6"/><circle cx="495.2" cy="225.0" r="6.6"/><circle cx="363.4" cy="226.0" r="6.6"/><circle cx="487.3" cy="216.3" r="6.6"/><circle cx="384.4" cy="219.2" r="6.6"/><circle cx="395.0" cy="227.6" r="6.6"/><circle cx="463.0" cy="233.2" r="6.6"/><circle cx="394.3" cy="226.8" r="6.6"/><circle cx="428.7" cy="223.1" r="6.6"/><circle cx="417.6" cy="215.7" r="6.6"/><circle cx="394.5" cy="219.5" r="6.6"/><circle cx="464.1" cy="233.1" r="6.6"/><circle cx="373.9" cy="230.6" r="6.6"/><circle cx="366.0" cy="222.7" r="6.6"/><circle cx="494.6" cy="215.3" r="6.6"/><circle cx="447.1" cy="215.2" r="6.6"/><circle cx="496.2" cy="229.2" r="6.6"/><circle cx="398.8" cy="219.2" r="6.6"/><circle cx="487.3" cy="221.9" r="6.6"/><circle cx="493.2" cy="234.6" r="6.6"/>
<circle cx="326.4" cy="177.3" r="6.6"/><circle cx="364.2" cy="186.7" r="6.6"/><circle cx="390.1" cy="190.7" r="6.6"/><circle cx="349.4" cy="194.7" r="6.6"/><circle cx="413.1" cy="198.7" r="6.6"/><circle cx="403.2" cy="201.3" r="6.6"/><circle cx="328.4" cy="211.2" r="6.6"/><circle cx="340.7" cy="205.9" r="6.6"/><circle cx="326.4" cy="225.3" r="6.6"/><circle cx="248.1" cy="240.0" r="6.6"/><circle cx="267.1" cy="235.2" r="6.6"/><circle cx="264.9" cy="249.3" r="6.6"/><circle cx="284.7" cy="246.7" r="6.6"/><circle cx="300.0" cy="253.3" r="6.6"/><circle cx="317.3" cy="244.0" r="6.6"/><circle cx="296.3" cy="268.0" r="6.6"/><circle cx="268.4" cy="302.7" r="6.6"/><circle cx="276.6" cy="302.7" r="6.6"/><circle cx="227.7" cy="336.6" r="6.6"/><circle cx="607.4" cy="221.9" r="6.6"/><circle cx="465.5" cy="196.5" r="6.6"/><circle cx="489.4" cy="196.5" r="6.6"/><circle cx="514.8" cy="208.0" r="6.6"/><circle cx="520.5" cy="212.8" r="6.6"/><circle cx="495.1" cy="209.3" r="6.6"/><circle cx="454.4" cy="201.3" r="6.6"/><circle cx="504.9" cy="229.9" r="6.6"/><circle cx="523.4" cy="236.0" r="6.6"/><circle cx="529.6" cy="242.7" r="6.6"/><circle cx="546.9" cy="261.3" r="6.6"/><circle cx="561.8" cy="272.0" r="6.6"/><circle cx="540.7" cy="276.0" r="6.6"/><circle cx="571.6" cy="288.0" r="6.6"/><circle cx="561.8" cy="285.3" r="6.6"/><circle cx="590.1" cy="307.2" r="6.6"/><circle cx="572.3" cy="312.0" r="6.6"/><circle cx="555.1" cy="314.7" r="6.6"/><circle cx="558.1" cy="326.7" r="6.6"/><circle cx="575.3" cy="337.3" r="6.6"/><circle cx="260.0" cy="339.3" r="6.6"/><circle cx="282.7" cy="359.3" r="6.6"/><circle cx="272.9" cy="374.0" r="6.6"/><circle cx="279.7" cy="417.5" r="6.6"/><circle cx="291.4" cy="416.7" r="6.6"/><circle cx="296.3" cy="431.3" r="6.6"/><circle cx="308.6" cy="438.0" r="6.6"/><circle cx="313.6" cy="451.3" r="6.6"/><circle cx="324.7" cy="462.0" r="6.6"/><circle cx="335.8" cy="447.3" r="6.6"/><circle cx="337.5" cy="482.0" r="6.6"/><circle cx="366.7" cy="486.0" r="6.6"/><circle cx="364.2" cy="468.7" r="6.6"/><circle cx="408.1" cy="491.3" r="6.6"/><circle cx="423.4" cy="487.3" r="6.6"/><circle cx="607.4" cy="381.2" r="6.6"/><circle cx="574.8" cy="340.7" r="6.6"/><circle cx="579.0" cy="358.0" r="6.6"/><circle cx="580.3" cy="366.0" r="6.6"/><circle cx="569.2" cy="366.8" r="6.6"/><circle cx="571.6" cy="396.7" r="6.6"/><circle cx="561.0" cy="399.9" r="6.6"/><circle cx="553.1" cy="413.2" r="6.6"/><circle cx="571.6" cy="428.7" r="6.6"/><circle cx="580.3" cy="430.8" r="6.6"/><circle cx="528.4" cy="432.7" r="6.6"/><circle cx="528.4" cy="439.9" r="6.6"/><circle cx="508.6" cy="451.3" r="6.6"/><circle cx="490.1" cy="457.5" r="6.6"/><circle cx="534.5" cy="468.7" r="6.6"/><circle cx="502.5" cy="475.3" r="6.6"/><circle cx="544.0" cy="489.2" r="6.6"/><circle cx="476.6" cy="478.0" r="6.6"/><circle cx="461.8" cy="489.2" r="6.6"/><circle cx="470.4" cy="483.3" r="6.6"/><circle cx="437.0" cy="500.7" r="6.6"/><circle cx="425.9" cy="487.3" r="6.6"/><circle cx="409.9" cy="490.0" r="6.6"/>
</g>
<ellipse transform="scale(1.15 1)" cx="394.70" cy="336.7" rx="110.96" ry="109.7" fill="none" stroke="#56AD2B" stroke-width="6.4"/>
<g fill="#FF0A0A">
<rect x="575.1" y="330.8" width="12.8" height="11.8" rx="2"/><rect x="573.5" y="348.0" width="12.8" height="11.8" rx="2"/><rect x="568.9" y="364.7" width="12.8" height="11.8" rx="2"/><rect x="561.2" y="380.6" width="12.8" height="11.8" rx="2"/><rect x="550.7" y="395.3" width="12.8" height="11.8" rx="2"/><rect x="537.7" y="408.4" width="12.8" height="11.8" rx="2"/><rect x="522.5" y="419.5" width="12.8" height="11.8" rx="2"/><rect x="505.4" y="428.5" width="12.8" height="11.8" rx="2"/><rect x="486.9" y="435.1" width="12.8" height="11.8" rx="2"/><rect x="467.5" y="439.1" width="12.8" height="11.8" rx="2"/><rect x="447.5" y="440.5" width="12.8" height="11.8" rx="2"/><rect x="427.5" y="439.1" width="12.8" height="11.8" rx="2"/><rect x="408.1" y="435.1" width="12.8" height="11.8" rx="2"/><rect x="389.6" y="428.5" width="12.8" height="11.8" rx="2"/><rect x="372.5" y="419.5" width="12.8" height="11.8" rx="2"/><rect x="357.3" y="408.4" width="12.8" height="11.8" rx="2"/><rect x="344.3" y="395.3" width="12.8" height="11.8" rx="2"/><rect x="333.8" y="380.6" width="12.8" height="11.8" rx="2"/><rect x="326.1" y="364.7" width="12.8" height="11.8" rx="2"/><rect x="321.5" y="348.0" width="12.8" height="11.8" rx="2"/><rect x="319.9" y="330.8" width="12.8" height="11.8" rx="2"/><rect x="321.5" y="313.6" width="12.8" height="11.8" rx="2"/><rect x="326.1" y="296.9" width="12.8" height="11.8" rx="2"/><rect x="333.8" y="281.0" width="12.8" height="11.8" rx="2"/><rect x="344.3" y="266.3" width="12.8" height="11.8" rx="2"/><rect x="357.3" y="253.2" width="12.8" height="11.8" rx="2"/><rect x="372.5" y="242.1" width="12.8" height="11.8" rx="2"/><rect x="389.6" y="233.1" width="12.8" height="11.8" rx="2"/><rect x="408.1" y="226.5" width="12.8" height="11.8" rx="2"/><rect x="427.5" y="222.5" width="12.8" height="11.8" rx="2"/><rect x="447.5" y="221.1" width="12.8" height="11.8" rx="2"/><rect x="467.5" y="222.5" width="12.8" height="11.8" rx="2"/><rect x="486.9" y="226.5" width="12.8" height="11.8" rx="2"/><rect x="505.4" y="233.1" width="12.8" height="11.8" rx="2"/><rect x="522.5" y="242.1" width="12.8" height="11.8" rx="2"/><rect x="537.7" y="253.2" width="12.8" height="11.8" rx="2"/><rect x="550.7" y="266.3" width="12.8" height="11.8" rx="2"/><rect x="561.2" y="281.0" width="12.8" height="11.8" rx="2"/><rect x="568.9" y="296.9" width="12.8" height="11.8" rx="2"/><rect x="573.5" y="313.6" width="12.8" height="11.8" rx="2"/>
</g>
<g fill="none" stroke="#000" stroke-width="2">
<path d="M175.4 12.5V630.2H887.5" />
<path d="M174.4 13.6H886.4V631.2" stroke="#2e2e2e" stroke-width="2.3"/>
<path d="M201.1 630V651.5M367.3 630V651.5M530.4 630V651.5M696.7 630V651.5M859.6 630V651.5M175.4 36H152.8M175.4 179.7H152.8M175.4 320.9H152.8M175.4 464.3H152.8M175.4 606H152.8"/>
</g>
<g font-size="36.5" text-anchor="middle" stroke="#fff" stroke-width="0.5">
<text x="199.4" y="707.5" textLength="87.0" lengthAdjust="spacingAndGlyphs">-0.05</text>
<text x="363.9" y="707.5" textLength="74.4" lengthAdjust="spacingAndGlyphs">0.00</text>
<text x="529.0" y="707.5" textLength="74.4" lengthAdjust="spacingAndGlyphs">0.05</text>
<text x="694.7" y="707.5" textLength="74.4" lengthAdjust="spacingAndGlyphs">0.10</text>
<text x="858.2" y="707.5" textLength="74.4" lengthAdjust="spacingAndGlyphs">0.15</text>
<text x="528.3" y="794.6" textLength="166.5" lengthAdjust="spacingAndGlyphs">Real Data</text>
</g>
<g font-size="35.8" text-anchor="middle" stroke="#fff" stroke-width="0.5">
<text transform="translate(122.6 36.6) rotate(-90) scale(1 1.15)" textLength="70.8" lengthAdjust="spacingAndGlyphs">0.05</text>
<text transform="translate(122.6 180.4) rotate(-90) scale(1 1.15)" textLength="70.8" lengthAdjust="spacingAndGlyphs">0.00</text>
<text transform="translate(122.6 320.2) rotate(-90) scale(1 1.15)" textLength="85.0" lengthAdjust="spacingAndGlyphs">-0.05</text>
<text transform="translate(122.6 464.6) rotate(-90) scale(1 1.15)" textLength="85.0" lengthAdjust="spacingAndGlyphs">-0.10</text>
<text transform="translate(122.6 606.7) rotate(-90) scale(1 1.15)" textLength="85.0" lengthAdjust="spacingAndGlyphs">-0.15</text>
<text transform="translate(32 321.6) rotate(-90) scale(1 1.15)" textLength="245" lengthAdjust="spacingAndGlyphs">Imaginary Data</text>
</g>
<ellipse cx="237.2" cy="51.6" rx="7.6" ry="7" fill="none" stroke="#7D5B36" stroke-width="2.2"/>
<rect x="230.3" y="88.6" width="12.8" height="11.8" rx="5" fill="#56AD2B"/>
<rect x="230.3" y="131.4" width="12.8" height="11.8" rx="5" fill="#FF0A0A"/>
<g font-size="36.5" lengthAdjust="spacingAndGlyphs" stroke="#fff" stroke-width="0.5">
<text x="269.7" y="65.7" textLength="247" lengthAdjust="spacingAndGlyphs">Simulated data</text>
<text x="269.7" y="111" textLength="590.3" lengthAdjust="spacingAndGlyphs">Theoretical 95 % level of confidence</text>
<text x="269.7" y="153.4" textLength="583" lengthAdjust="spacingAndGlyphs">Calculated 95 % level of confidence</text>
</g>
</svg>
</body></html>
